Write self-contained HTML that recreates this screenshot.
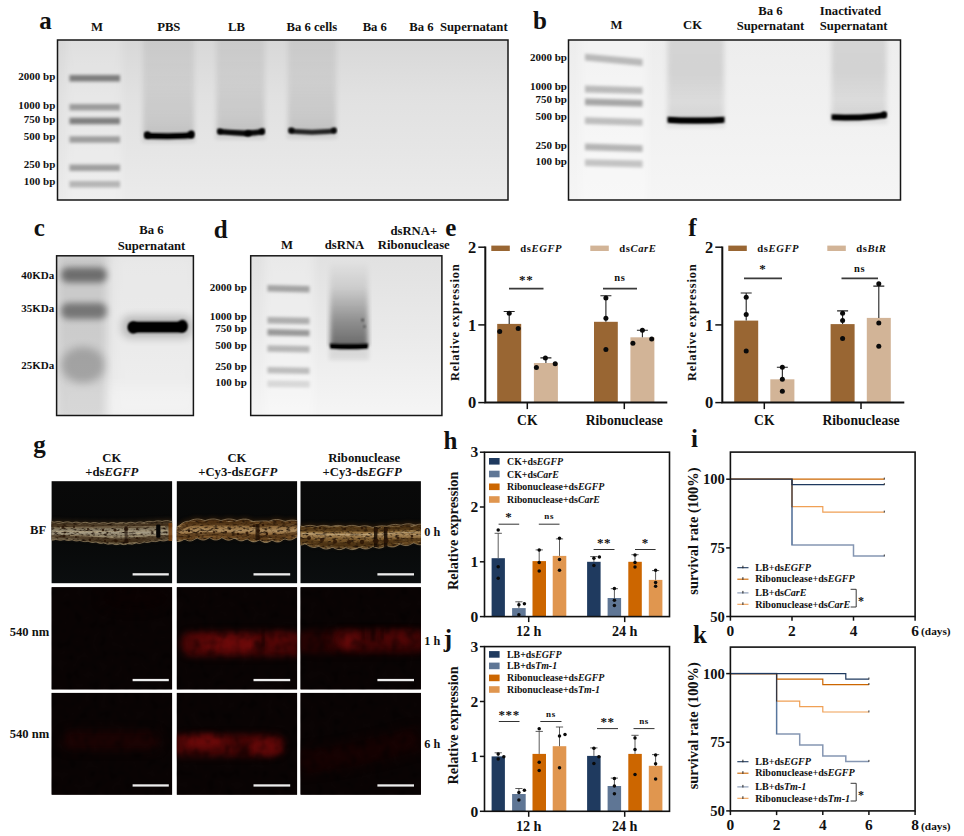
<!DOCTYPE html>
<html><head><meta charset="utf-8"><title>Figure</title>
<style>
html,body{margin:0;padding:0;background:#fff;}
body{width:964px;height:836px;overflow:hidden;font-family:"Liberation Serif",serif;}
svg{display:block;}
svg filter{color-interpolation-filters:sRGB;}
svg text{font-family:"Liberation Serif",serif;fill:#111;}
</style></head><body>
<svg width="964" height="836" viewBox="0 0 964 836">
<defs>
<filter color-interpolation-filters="sRGB" id="b1" x="-20%" y="-200%" width="140%" height="500%"><feGaussianBlur stdDeviation="1.2 0.9"/></filter>
<filter color-interpolation-filters="sRGB" id="b2" x="-20%" y="-200%" width="140%" height="500%"><feGaussianBlur stdDeviation="1.8 1.6"/></filter>
<filter color-interpolation-filters="sRGB" id="b3" x="-20%" y="-50%" width="140%" height="200%"><feGaussianBlur stdDeviation="2.2"/></filter>
<filter color-interpolation-filters="sRGB" id="b4" x="-30%" y="-80%" width="160%" height="260%"><feGaussianBlur stdDeviation="3"/></filter>
<filter color-interpolation-filters="sRGB" id="b5" x="-30%" y="-60%" width="160%" height="220%"><feGaussianBlur stdDeviation="4"/></filter>
<filter color-interpolation-filters="sRGB" id="b8" x="-30%" y="-60%" width="160%" height="220%"><feGaussianBlur stdDeviation="7"/></filter>
<filter color-interpolation-filters="sRGB" id="bs" x="-10%" y="-10%" width="120%" height="120%"><feGaussianBlur stdDeviation="2.5 1.5"/></filter>
<linearGradient id="gelA" x1="0" y1="0" x2="0" y2="1"><stop offset="0" stop-color="#d8d8d8"/><stop offset="0.35" stop-color="#e1e1e1"/><stop offset="0.7" stop-color="#e6e6e6"/><stop offset="1" stop-color="#ebebeb"/></linearGradient>
<linearGradient id="gelB" x1="0" y1="0" x2="0" y2="1"><stop offset="0" stop-color="#ededed"/><stop offset="0.5" stop-color="#f1f1f1"/><stop offset="1" stop-color="#f5f5f5"/></linearGradient>
<linearGradient id="gelD" x1="0" y1="0" x2="0" y2="1"><stop offset="0" stop-color="#e1e1e1"/><stop offset="0.5" stop-color="#eaeaea"/><stop offset="1" stop-color="#f5f5f5"/></linearGradient>
<linearGradient id="smear" x1="0" y1="0" x2="0" y2="1"><stop offset="0" stop-color="#000" stop-opacity="0.06"/><stop offset="0.5" stop-color="#000" stop-opacity="0.075"/><stop offset="0.85" stop-color="#000" stop-opacity="0.115"/><stop offset="1" stop-color="#000" stop-opacity="0.15"/></linearGradient>
<linearGradient id="smearB" x1="0" y1="0" x2="0" y2="1"><stop offset="0" stop-color="#000" stop-opacity="0.10"/><stop offset="0.45" stop-color="#000" stop-opacity="0.115"/><stop offset="0.8" stop-color="#000" stop-opacity="0.085"/><stop offset="1" stop-color="#000" stop-opacity="0.12"/></linearGradient>
<linearGradient id="smearD" x1="0" y1="0" x2="0" y2="1"><stop offset="0" stop-color="#000" stop-opacity="0.0"/><stop offset="0.3" stop-color="#000" stop-opacity="0.10"/><stop offset="0.7" stop-color="#000" stop-opacity="0.38"/><stop offset="1" stop-color="#000" stop-opacity="0.55"/></linearGradient>
<clipPath id="cpa"><rect x="57.5" y="40" width="450.5" height="160"/></clipPath><clipPath id="cpb"><rect x="568.5" y="40" width="332.0" height="160"/></clipPath>
<linearGradient id="gelC" x1="0" y1="0" x2="0" y2="1"><stop offset="0" stop-color="#dcdcdc"/><stop offset="0.5" stop-color="#e0e0e0"/><stop offset="1" stop-color="#e6e6e6"/></linearGradient>
<clipPath id="cpc"><rect x="56.6" y="255.8" width="136.8" height="159.7"/></clipPath><clipPath id="cpd"><rect x="250.7" y="255.8" width="191.2" height="159.7"/></clipPath>
<filter color-interpolation-filters="sRGB" id="wt" x="0" y="0" width="100%" height="100%">
  <feTurbulence type="fractalNoise" baseFrequency="0.22 0.5" numOctaves="2" seed="7" result="n"/>
  <feColorMatrix in="n" type="matrix" values="0 0 0 0 0.12  0 0 0 0 0.07  0 0 0 0 0.03  0 0 0 3.0 -1.42" result="dk"/>
  <feComposite in="dk" in2="SourceGraphic" operator="in" result="dk2"/>
  <feTurbulence type="fractalNoise" baseFrequency="0.12 0.9" numOctaves="2" seed="21" result="n2"/>
  <feColorMatrix in="n2" type="matrix" values="0 0 0 0 0.85  0 0 0 0 0.76  0 0 0 0 0.58  0 0 0 1.8 -1.08" result="lt"/>
  <feComposite in="lt" in2="SourceGraphic" operator="in" result="lt2"/>
  <feMerge><feMergeNode in="SourceGraphic"/><feMergeNode in="lt2"/><feMergeNode in="dk2"/></feMerge>
</filter>
<filter color-interpolation-filters="sRGB" id="wb" x="-5%" y="-20%" width="110%" height="140%"><feGaussianBlur stdDeviation="0.7"/></filter><filter color-interpolation-filters="sRGB" id="wh" x="-5%" y="-40%" width="110%" height="180%"><feGaussianBlur stdDeviation="2.2"/></filter>
<filter color-interpolation-filters="sRGB" id="rt" x="0" y="0" width="100%" height="100%">
  <feTurbulence type="fractalNoise" baseFrequency="0.12 0.10" numOctaves="2" seed="11" result="n"/>
  <feColorMatrix in="n" type="matrix" values="0 0 0 0 0  0 0 0 0 0  0 0 0 0 0  0 0 0 1.1 -0.47" result="dk"/>
  <feGaussianBlur in="dk" stdDeviation="0.9" result="dkb"/>
  <feMerge><feMergeNode in="SourceGraphic"/><feMergeNode in="dkb"/></feMerge>
</filter>
<filter color-interpolation-filters="sRGB" id="rg" x="-40%" y="-120%" width="180%" height="340%"><feGaussianBlur stdDeviation="3.2"/></filter>
<filter color-interpolation-filters="sRGB" id="rg2" x="-40%" y="-250%" width="180%" height="600%"><feGaussianBlur stdDeviation="5"/></filter>
<linearGradient id="w1" x1="0" y1="0" x2="0" y2="1"><stop offset="0" stop-color="#2a1e10"/><stop offset="0.14" stop-color="#4a3a26"/><stop offset="0.32" stop-color="#7c7058"/><stop offset="0.5" stop-color="#a39a84"/><stop offset="0.68" stop-color="#7a6e56"/><stop offset="0.86" stop-color="#483822"/><stop offset="1" stop-color="#6e6046"/></linearGradient>
<linearGradient id="w2" x1="0" y1="0" x2="0" y2="1"><stop offset="0" stop-color="#2e1a08"/><stop offset="0.14" stop-color="#5a3a18"/><stop offset="0.32" stop-color="#8e6a3c"/><stop offset="0.5" stop-color="#ab8a5c"/><stop offset="0.68" stop-color="#8a6234"/><stop offset="0.86" stop-color="#5c3c18"/><stop offset="1" stop-color="#8c7048"/></linearGradient>
<linearGradient id="w3" x1="0" y1="0" x2="0" y2="1"><stop offset="0" stop-color="#2e1c0a"/><stop offset="0.14" stop-color="#5a3e1a"/><stop offset="0.3" stop-color="#8a6836"/><stop offset="0.42" stop-color="#a8885a"/><stop offset="0.6" stop-color="#7c5a2c"/><stop offset="0.86" stop-color="#553a18"/><stop offset="1" stop-color="#7c6440"/></linearGradient>
<linearGradient id="bgd" x1="0" y1="0" x2="0" y2="1"><stop offset="0" stop-color="#090909"/><stop offset="0.5" stop-color="#070808"/><stop offset="1" stop-color="#0b0e0f"/></linearGradient>
<clipPath id="g00"><rect x="51.6" y="481.2" width="120.5" height="102.0"/></clipPath><clipPath id="g01"><rect x="51.6" y="587.2" width="120.5" height="102.2"/></clipPath><clipPath id="g02"><rect x="51.6" y="692.9" width="120.5" height="101.8"/></clipPath><clipPath id="g10"><rect x="176.8" y="481.2" width="120.3" height="102.0"/></clipPath><clipPath id="g11"><rect x="176.8" y="587.2" width="120.3" height="102.2"/></clipPath><clipPath id="g12"><rect x="176.8" y="692.9" width="120.3" height="101.8"/></clipPath><clipPath id="g20"><rect x="300.5" y="481.2" width="120.4" height="102.0"/></clipPath><clipPath id="g21"><rect x="300.5" y="587.2" width="120.4" height="102.2"/></clipPath><clipPath id="g22"><rect x="300.5" y="692.9" width="120.4" height="101.8"/></clipPath></defs>
<rect width="964" height="836" fill="#fff"/>
<text x="45.5" y="28.5" font-size="25" text-anchor="middle" font-weight="bold" font-style="normal" >a</text>
<text x="97" y="30.8" font-size="12.7" text-anchor="middle" font-weight="bold" font-style="normal" >M</text>
<text x="168.8" y="30.8" font-size="12.7" text-anchor="middle" font-weight="bold" font-style="normal" >PBS</text>
<text x="236.5" y="30.8" font-size="12.7" text-anchor="middle" font-weight="bold" font-style="normal" >LB</text>
<text x="311.8" y="30.8" font-size="12.7" text-anchor="middle" font-weight="bold" font-style="normal" >Ba 6 cells</text>
<text x="374.8" y="30.8" font-size="12.7" text-anchor="middle" font-weight="bold" font-style="normal" >Ba 6</text>
<text x="409.3" y="30.8" font-size="12.7" text-anchor="start" font-weight="bold" font-style="normal" xml:space="preserve">Ba 6  Supernatant</text>
<text x="55.3" y="80.1" font-size="11" text-anchor="end" font-weight="bold" font-style="normal" >2000 bp</text>
<text x="55.3" y="108.7" font-size="11" text-anchor="end" font-weight="bold" font-style="normal" >1000 bp</text>
<text x="55.3" y="122.7" font-size="11" text-anchor="end" font-weight="bold" font-style="normal" >750 bp</text>
<text x="55.3" y="140.4" font-size="11" text-anchor="end" font-weight="bold" font-style="normal" >500 bp</text>
<text x="55.3" y="168.3" font-size="11" text-anchor="end" font-weight="bold" font-style="normal" >250 bp</text>
<text x="55.3" y="184.9" font-size="11" text-anchor="end" font-weight="bold" font-style="normal" >100 bp</text>
<rect x="57.5" y="40" width="450.5" height="160" fill="url(#gelA)"/>
<g clip-path="url(#cpa)">
<rect x="66" y="30" width="56" height="180" fill="#fff" opacity="0.2" filter="url(#b5)"/>
<path d="M69.5 75.0 L120 75.0 L120 81.6 L69.5 81.6 Z" fill="#000" fill-opacity="0.45" filter="url(#b2)"/>
<path d="M69.5 104.0 L120 104.0 L120 110.6 L69.5 110.6 Z" fill="#000" fill-opacity="0.324" filter="url(#b2)"/>
<path d="M69.5 117.7 L120 117.7 L120 124.3 L69.5 124.3 Z" fill="#000" fill-opacity="0.45" filter="url(#b2)"/>
<path d="M69.5 136.2 L120 136.2 L120 142.8 L69.5 142.8 Z" fill="#000" fill-opacity="0.324" filter="url(#b2)"/>
<path d="M69.5 164.39999999999998 L120 164.39999999999998 L120 171.0 L69.5 171.0 Z" fill="#000" fill-opacity="0.324" filter="url(#b2)"/>
<path d="M69.5 181.0 L120 181.0 L120 187.60000000000002 L69.5 187.60000000000002 Z" fill="#000" fill-opacity="0.234" filter="url(#b2)"/>
<rect x="143" y="34" width="51" height="101.5" fill="url(#smear)" filter="url(#bs)"/>
<rect x="142" y="135.5" width="53" height="7" fill="#000" opacity="0.09" filter="url(#b3)"/>
<rect x="216.5" y="34" width="48.0" height="98.30000000000001" fill="url(#smear)" filter="url(#bs)"/>
<rect x="215.5" y="132.3" width="50.0" height="7" fill="#000" opacity="0.09" filter="url(#b3)"/>
<rect x="288" y="34" width="48" height="97.5" fill="url(#smear)" filter="url(#bs)"/>
<rect x="287" y="131.5" width="50" height="7" fill="#000" opacity="0.09" filter="url(#b3)"/>
<polygon points="144.5 132.2 150 132.9 168 133.2 186 132.8 193.5 131.8 193.5 137.8 186 138.8 168 139.2 150 138.9 144.5 138.2" fill="#000" fill-opacity="1" filter="url(#b1)"/>
<polygon points="146 133.8 168 134.70000000000002 192 133.5 192 136.89999999999998 168 138.1 146 137.2" fill="#000" fill-opacity="1"/>
<ellipse cx="147.5" cy="135" rx="3" ry="3.5" fill="#000" filter="url(#b1)"/>
<ellipse cx="191.3" cy="134.4" rx="3.2" ry="3.8" fill="#000" filter="url(#b1)"/>
<polygon points="217.5 128.70000000000002 230 129.70000000000002 245 130.5 255 130.10000000000002 264.5 128.5 264.5 133.89999999999998 255 135.5 245 135.89999999999998 230 135.1 217.5 134.1" fill="#000" fill-opacity="0.9" filter="url(#b1)"/>
<ellipse cx="248" cy="133.6" rx="3.4" ry="3.0" fill="#000" filter="url(#b1)"/>
<ellipse cx="262" cy="131.4" rx="2.6" ry="3.2" fill="#000" opacity="0.85" filter="url(#b1)"/>
<ellipse cx="220" cy="131.4" rx="2.6" ry="2.8" fill="#000" opacity="0.7" filter="url(#b1)"/>
<polygon points="219 130.6 245 132.1 263 130.4 263 133.20000000000002 245 134.9 219 133.4" fill="#000" fill-opacity="0.7" filter="url(#b1)"/>
<polygon points="288.5 128.1 296 129.1 312 129.7 328 129.1 336 127.9 336 132.9 328 134.1 312 134.7 296 134.1 288.5 133.1" fill="#000" fill-opacity="0.72" filter="url(#b1)"/>
<ellipse cx="291.5" cy="130.6" rx="2.8" ry="3.0" fill="#000" opacity="0.85" filter="url(#b1)"/>
<ellipse cx="334" cy="130.4" rx="2.8" ry="3.0" fill="#000" opacity="0.85" filter="url(#b1)"/>
<polygon points="291 130.20000000000002 312 131.20000000000002 334 130.0 334 132.39999999999998 312 133.6 291 132.6" fill="#000" fill-opacity="0.55" filter="url(#b1)"/>
</g>
<rect x="57.5" y="40" width="450.5" height="160" fill="none" stroke="#161616" stroke-width="1.5"/>
<text x="540" y="28.5" font-size="25" text-anchor="middle" font-weight="bold" font-style="normal" >b</text>
<text x="616.5" y="29.4" font-size="12.7" text-anchor="middle" font-weight="bold" font-style="normal" >M</text>
<text x="692.5" y="29.4" font-size="12.7" text-anchor="middle" font-weight="bold" font-style="normal" >CK</text>
<text x="770.5" y="14.8" font-size="12.7" text-anchor="middle" font-weight="bold" font-style="normal" >Ba 6</text>
<text x="770.5" y="29.8" font-size="12.7" text-anchor="middle" font-weight="bold" font-style="normal" >Supernatant</text>
<text x="819.8" y="14.8" font-size="12.7" text-anchor="start" font-weight="bold" font-style="normal" >Inactivated</text>
<text x="819.8" y="29.8" font-size="12.7" text-anchor="start" font-weight="bold" font-style="normal" >Supernatant</text>
<text x="567.0" y="60.9" font-size="11" text-anchor="end" font-weight="bold" font-style="normal" >2000 bp</text>
<text x="567.0" y="89.6" font-size="11" text-anchor="end" font-weight="bold" font-style="normal" >1000 bp</text>
<text x="567.0" y="102.8" font-size="11" text-anchor="end" font-weight="bold" font-style="normal" >750 bp</text>
<text x="567.0" y="120.3" font-size="11" text-anchor="end" font-weight="bold" font-style="normal" >500 bp</text>
<text x="567.0" y="148.5" font-size="11" text-anchor="end" font-weight="bold" font-style="normal" >250 bp</text>
<text x="567.0" y="164.5" font-size="11" text-anchor="end" font-weight="bold" font-style="normal" >100 bp</text>
<rect x="568.5" y="40" width="332.0" height="160" fill="url(#gelB)"/>
<g clip-path="url(#cpb)">
<rect x="580" y="30" width="68" height="180" fill="#fff" opacity="0.32" filter="url(#b5)"/>
<path d="M585 53.699999999999996 L642.5 59.1 L642.5 65.9 L585 60.49999999999999 Z" fill="#000" fill-opacity="0.2375" filter="url(#b2)"/>
<path d="M585 85.6 L642.5 87.19999999999999 L642.5 94.0 L585 92.4 Z" fill="#000" fill-opacity="0.2375" filter="url(#b2)"/>
<path d="M585 98.39999999999999 L642.5 99.99999999999999 L642.5 106.8 L585 105.2 Z" fill="#000" fill-opacity="0.323" filter="url(#b2)"/>
<path d="M585 117.19999999999999 L642.5 119.0 L642.5 125.80000000000001 L585 124.0 Z" fill="#000" fill-opacity="0.22799999999999998" filter="url(#b2)"/>
<path d="M585 143.5 L642.5 145.3 L642.5 152.10000000000002 L585 150.3 Z" fill="#000" fill-opacity="0.266" filter="url(#b2)"/>
<path d="M585 159.20000000000002 L642.5 160.6 L642.5 167.4 L585 166.00000000000003 Z" fill="#000" fill-opacity="0.209" filter="url(#b2)"/>
<rect x="667.5" y="34" width="56.5" height="85.5" fill="url(#smearB)" filter="url(#bs)"/>
<rect x="666.5" y="119.5" width="58.5" height="8" fill="#000" opacity="0.07" filter="url(#b3)"/>
<rect x="831.5" y="34" width="55.0" height="82" fill="url(#smearB)" filter="url(#bs)"/>
<rect x="830.5" y="116" width="57.0" height="8" fill="#000" opacity="0.07" filter="url(#b3)"/>
<polygon points="667.5 116.8 680 117.4 696 117.6 712 117.4 724.5 116.8 724.5 122.8 712 123.4 696 123.6 680 123.4 667.5 122.8" fill="#000" fill-opacity="1" filter="url(#b1)"/>
<polygon points="669.5 118.60000000000001 696 119.30000000000001 722.5 118.60000000000001 722.5 121.8 696 122.5 669.5 121.8" fill="#000" fill-opacity="1" filter="url(#b1)"/>
<polygon points="831.5 114.3 845 114.69999999999999 860 114.5 875 113.5 886.5 111.89999999999999 886.5 117.7 875 119.30000000000001 860 120.30000000000001 845 120.5 831.5 120.10000000000001" fill="#000" fill-opacity="1" filter="url(#b1)"/>
<ellipse cx="884" cy="114.6" rx="2.6" ry="3.2" fill="#000" opacity="0.9" filter="url(#b1)"/>
<polygon points="833.5 116.1 860 116.2 884.5 113.7 884.5 116.7 860 119.2 833.5 119.1" fill="#000" fill-opacity="1" filter="url(#b1)"/>
</g>
<rect x="568.5" y="40" width="332.0" height="160" fill="none" stroke="#161616" stroke-width="1.5"/>
<text x="39.3" y="235.5" font-size="25" text-anchor="middle" font-weight="bold" font-style="normal" >c</text>
<text x="151.5" y="234.3" font-size="12.7" text-anchor="middle" font-weight="bold" font-style="normal" >Ba 6</text>
<text x="151.5" y="249.9" font-size="12.7" text-anchor="middle" font-weight="bold" font-style="normal" >Supernatant</text>
<text x="54.3" y="279.1" font-size="11" text-anchor="end" font-weight="bold" font-style="normal" >40KDa</text>
<text x="54.3" y="312.1" font-size="11" text-anchor="end" font-weight="bold" font-style="normal" >35KDa</text>
<text x="54.3" y="369.1" font-size="11" text-anchor="end" font-weight="bold" font-style="normal" >25KDa</text>
<rect x="56.6" y="255.8" width="136.8" height="159.7" fill="url(#gelC)"/>
<g clip-path="url(#cpc)">
<rect x="110" y="250" width="90" height="170" fill="#fff" opacity="0.35" filter="url(#b8)"/>
<rect x="60" y="385" width="140" height="40" fill="#fff" opacity="0.25" filter="url(#b8)"/>
<rect x="58" y="254" width="48" height="165" fill="#000" opacity="0.085" filter="url(#b5)"/>
<rect x="61" y="267.5" width="46" height="15" rx="7" fill="#000" opacity="0.46" filter="url(#b4)"/>
<rect x="61" y="303" width="46" height="16" rx="7" fill="#000" opacity="0.42" filter="url(#b4)"/>
<ellipse cx="83" cy="365" rx="22" ry="18" fill="#000" opacity="0.21" filter="url(#b5)"/>
<rect x="122" y="316" width="70" height="22" rx="8" fill="#000" opacity="0.22" filter="url(#b5)"/>
<rect x="128" y="321.8" width="59" height="10.6" rx="5.3" fill="#000" filter="url(#b1)"/>
<rect x="129" y="322.8" width="57" height="8.6" rx="4.3" fill="#000"/>
<ellipse cx="133" cy="327.6" rx="5" ry="6" fill="#000" filter="url(#b1)"/>
<ellipse cx="182.5" cy="326" rx="5" ry="6.2" fill="#000" filter="url(#b1)"/>
</g>
<rect x="56.6" y="255.8" width="136.8" height="159.7" fill="none" stroke="#161616" stroke-width="1.5"/>
<text x="220.6" y="237.6" font-size="25" text-anchor="middle" font-weight="bold" font-style="normal" >d</text>
<text x="287" y="248.6" font-size="12.7" text-anchor="middle" font-weight="bold" font-style="normal" >M</text>
<text x="344.5" y="248.6" font-size="12.7" text-anchor="middle" font-weight="bold" font-style="normal" >dsRNA</text>
<text x="413.8" y="234.8" font-size="12.7" text-anchor="middle" font-weight="bold" font-style="normal" >dsRNA+</text>
<text x="413.8" y="249" font-size="12.7" text-anchor="middle" font-weight="bold" font-style="normal" >Ribonuclease</text>
<text x="246.8" y="291.0" font-size="11" text-anchor="end" font-weight="bold" font-style="normal" >2000 bp</text>
<text x="246.8" y="319.90000000000003" font-size="11" text-anchor="end" font-weight="bold" font-style="normal" >1000 bp</text>
<text x="246.8" y="332.1" font-size="11" text-anchor="end" font-weight="bold" font-style="normal" >750 bp</text>
<text x="246.8" y="348.6" font-size="11" text-anchor="end" font-weight="bold" font-style="normal" >500 bp</text>
<text x="246.8" y="369.6" font-size="11" text-anchor="end" font-weight="bold" font-style="normal" >250 bp</text>
<text x="246.8" y="386.3" font-size="11" text-anchor="end" font-weight="bold" font-style="normal" >100 bp</text>
<rect x="250.7" y="255.8" width="191.2" height="159.7" fill="url(#gelD)"/>
<g clip-path="url(#cpd)">
<rect x="264" y="246" width="50" height="180" fill="#fff" opacity="0.28" filter="url(#b5)"/>
<path d="M267.5 285.0 L309.5 286.0 L309.5 292.4 L267.5 291.4 Z" fill="#000" fill-opacity="0.30600000000000005" filter="url(#b2)"/>
<path d="M267.5 317.00000000000006 L309.5 317.8 L309.5 324.2 L267.5 323.40000000000003 Z" fill="#000" fill-opacity="0.27" filter="url(#b2)"/>
<path d="M267.5 329.1 L309.5 329.9 L309.5 336.29999999999995 L267.5 335.5 Z" fill="#000" fill-opacity="0.36000000000000004" filter="url(#b2)"/>
<path d="M267.5 345.3 L309.5 346.09999999999997 L309.5 352.49999999999994 L267.5 351.7 Z" fill="#000" fill-opacity="0.24300000000000002" filter="url(#b2)"/>
<path d="M267.5 366.90000000000003 L309.5 367.7 L309.5 374.09999999999997 L267.5 373.3 Z" fill="#000" fill-opacity="0.225" filter="url(#b2)"/>
<path d="M267.5 380.5 L309.5 381.1 L309.5 387.5 L267.5 386.9 Z" fill="#000" fill-opacity="0.117" filter="url(#b2)"/>
<rect x="330" y="262" width="38" height="84" fill="url(#smearD)" filter="url(#bs)"/>
<rect x="329" y="346" width="40" height="14" fill="#000" opacity="0.08" filter="url(#b3)"/>
<circle cx="362.6" cy="320" r="1.5" fill="#000" opacity="0.5" filter="url(#b1)"/>
<circle cx="364.6" cy="326.6" r="1.4" fill="#000" opacity="0.4" filter="url(#b1)"/>
<polygon points="330 343.4 340 344.0 358 344.0 368 343.4 368 348.6 358 349.20000000000005 340 349.20000000000005 330 348.6" fill="#000" fill-opacity="1" filter="url(#b1)"/>
<polygon points="331.5 345.09999999999997 349 345.7 366.5 345.09999999999997 366.5 347.7 349 348.3 331.5 347.7" fill="#000" fill-opacity="0.9"/>
</g>
<rect x="250.7" y="255.8" width="191.2" height="159.7" fill="none" stroke="#161616" stroke-width="1.5"/>
<text x="450.8" y="236.4" font-size="25" text-anchor="middle" font-weight="bold" font-style="normal" >e</text>
<text transform="translate(459.3,322.29999999999995) rotate(-90)" font-size="12.4" letter-spacing="0.82" text-anchor="middle" font-weight="bold">Relative expression</text>
<rect x="497.2" y="323.9" width="24.000000000000057" height="78.7" fill="#996633"/>
<path d="M509.20000000000005 323.9 V311.5 M503.70000000000005 311.5 H514.7" stroke="#222" stroke-width="1.1" fill="none"/>
<circle cx="509.20000000000005" cy="313.2" r="2.5" fill="#0a0a0a"/>
<circle cx="499.70000000000005" cy="331.5" r="2.5" fill="#0a0a0a"/>
<circle cx="518.2" cy="328.4" r="2.5" fill="#0a0a0a"/>
<rect x="533.9" y="363.0" width="24.0" height="39.6" fill="#d2b497"/>
<path d="M545.9 363.0 V357.9 M540.4 357.9 H551.4" stroke="#222" stroke-width="1.1" fill="none"/>
<circle cx="545.4" cy="357.9" r="2.5" fill="#0a0a0a"/>
<circle cx="536.4" cy="367.6" r="2.5" fill="#0a0a0a"/>
<circle cx="555.1999999999999" cy="363.8" r="2.5" fill="#0a0a0a"/>
<rect x="594.0" y="321.8" width="23.799999999999955" height="80.8" fill="#996633"/>
<path d="M605.9 321.8 V295.8 M600.4 295.8 H611.4" stroke="#222" stroke-width="1.1" fill="none"/>
<circle cx="605.9" cy="298.1" r="2.5" fill="#0a0a0a"/>
<circle cx="605.9" cy="318.3" r="2.5" fill="#0a0a0a"/>
<circle cx="605.9" cy="349.4" r="2.5" fill="#0a0a0a"/>
<rect x="630.4" y="337.3" width="24.0" height="65.3" fill="#d2b497"/>
<path d="M642.4 337.3 V330.3 M636.9 330.3 H647.9" stroke="#222" stroke-width="1.1" fill="none"/>
<circle cx="642.4" cy="330.3" r="2.5" fill="#0a0a0a"/>
<circle cx="632.9" cy="343.2" r="2.5" fill="#0a0a0a"/>
<circle cx="651.6999999999999" cy="338.9" r="2.5" fill="#0a0a0a"/>
<path d="M485.3 246.39999999999998 V402.6 H667.3" stroke="#111" stroke-width="2.0" fill="none"/>
<path d="M478.3 402.6 H485.3" stroke="#111" stroke-width="1.5"/>
<text x="476.3" y="408.20000000000005" font-size="16.5" text-anchor="end" font-weight="bold" font-style="normal" >0</text>
<path d="M478.3 324.9 H485.3" stroke="#111" stroke-width="1.5"/>
<text x="476.3" y="330.5" font-size="16.5" text-anchor="end" font-weight="bold" font-style="normal" >1</text>
<path d="M478.3 247.2 H485.3" stroke="#111" stroke-width="1.5"/>
<text x="476.3" y="252.79999999999998" font-size="16.5" text-anchor="end" font-weight="bold" font-style="normal" >2</text>
<path d="M527.3 402.6 V409.1" stroke="#111" stroke-width="1.5"/>
<text x="527.3" y="424.8" font-size="13.6" text-anchor="middle" font-weight="bold" font-style="normal" >CK</text>
<path d="M624.3 402.6 V409.1" stroke="#111" stroke-width="1.5"/>
<text x="624.3" y="424.8" font-size="13.6" text-anchor="middle" font-weight="bold" font-style="normal" >Ribonuclease</text>
<rect x="491.3" y="245.6" width="18.5" height="5.4" fill="#996633"/>
<text x="520.3" y="251.6" font-size="10.6" text-anchor="start" font-weight="bold" font-style="normal" letter-spacing="0.6">ds<tspan font-style="italic">EGFP</tspan></text>
<rect x="590.3" y="245.6" width="18.5" height="5.4" fill="#d2b497"/>
<text x="619.3" y="251.6" font-size="10.6" text-anchor="start" font-weight="bold" font-style="normal" letter-spacing="0.6">ds<tspan font-style="italic">CarE</tspan></text>
<path d="M509 288.6 H543.5" stroke="#3a3a3a" stroke-width="1.7"/>
<text x="526.25" y="283.8" font-size="13" text-anchor="middle" font-weight="bold" font-style="normal" letter-spacing="0.8">**</text>
<path d="M603 288.6 H637" stroke="#3a3a3a" stroke-width="1.7"/>
<text x="620.0" y="280.8" font-size="10.5" text-anchor="middle" font-weight="bold" font-style="normal" letter-spacing="0.8">ns</text>
<text x="692.5" y="236.4" font-size="25" text-anchor="middle" font-weight="bold" font-style="normal" >f</text>
<text transform="translate(696.3,322.29999999999995) rotate(-90)" font-size="12.4" letter-spacing="0.82" text-anchor="middle" font-weight="bold">Relative expression</text>
<rect x="734.2" y="320.6" width="24.0" height="82.0" fill="#996633"/>
<path d="M746.2 320.6 V293.0 M740.7 293.0 H751.7" stroke="#222" stroke-width="1.1" fill="none"/>
<circle cx="746.2" cy="297.3" r="2.5" fill="#0a0a0a"/>
<circle cx="746.2" cy="314.4" r="2.5" fill="#0a0a0a"/>
<circle cx="746.2" cy="350.9" r="2.5" fill="#0a0a0a"/>
<rect x="770.3" y="379.3" width="24.100000000000023" height="23.3" fill="#d2b497"/>
<path d="M782.3499999999999 379.3 V367.2 M776.8499999999999 367.2 H787.8499999999999" stroke="#222" stroke-width="1.1" fill="none"/>
<circle cx="782.3499999999999" cy="367.2" r="2.5" fill="#0a0a0a"/>
<circle cx="782.3499999999999" cy="379.3" r="2.5" fill="#0a0a0a"/>
<circle cx="782.3499999999999" cy="391.3" r="2.5" fill="#0a0a0a"/>
<rect x="830.6" y="324.1" width="24.0" height="78.5" fill="#996633"/>
<path d="M842.6 324.1 V310.9 M837.1 310.9 H848.1" stroke="#222" stroke-width="1.1" fill="none"/>
<circle cx="842.6" cy="313.2" r="2.5" fill="#0a0a0a"/>
<circle cx="842.6" cy="320.6" r="2.5" fill="#0a0a0a"/>
<circle cx="842.6" cy="338.5" r="2.5" fill="#0a0a0a"/>
<rect x="866.8" y="317.9" width="24.0" height="84.7" fill="#d2b497"/>
<path d="M878.8 317.9 V286.1 M873.3 286.1 H884.3" stroke="#222" stroke-width="1.1" fill="none"/>
<circle cx="878.8" cy="283.7" r="2.5" fill="#0a0a0a"/>
<circle cx="878.8" cy="323.0" r="2.5" fill="#0a0a0a"/>
<circle cx="878.8" cy="346.3" r="2.5" fill="#0a0a0a"/>
<path d="M722.3 246.39999999999998 V402.6 H904.3" stroke="#111" stroke-width="2.0" fill="none"/>
<path d="M715.3 402.6 H722.3" stroke="#111" stroke-width="1.5"/>
<text x="713.3" y="408.20000000000005" font-size="16.5" text-anchor="end" font-weight="bold" font-style="normal" >0</text>
<path d="M715.3 324.9 H722.3" stroke="#111" stroke-width="1.5"/>
<text x="713.3" y="330.5" font-size="16.5" text-anchor="end" font-weight="bold" font-style="normal" >1</text>
<path d="M715.3 247.2 H722.3" stroke="#111" stroke-width="1.5"/>
<text x="713.3" y="252.79999999999998" font-size="16.5" text-anchor="end" font-weight="bold" font-style="normal" >2</text>
<path d="M764.3 402.6 V409.1" stroke="#111" stroke-width="1.5"/>
<text x="764.3" y="424.8" font-size="13.6" text-anchor="middle" font-weight="bold" font-style="normal" >CK</text>
<path d="M861 402.6 V409.1" stroke="#111" stroke-width="1.5"/>
<text x="861" y="424.8" font-size="13.6" text-anchor="middle" font-weight="bold" font-style="normal" >Ribonuclease</text>
<rect x="728.3" y="245.6" width="18.5" height="5.4" fill="#996633"/>
<text x="757.3" y="251.6" font-size="10.6" text-anchor="start" font-weight="bold" font-style="normal" letter-spacing="0.6">ds<tspan font-style="italic">EGFP</tspan></text>
<rect x="827.3" y="245.6" width="18.5" height="5.4" fill="#d2b497"/>
<text x="856.3" y="251.6" font-size="10.6" text-anchor="start" font-weight="bold" font-style="normal" letter-spacing="0.6">ds<tspan font-style="italic">BtR</tspan></text>
<path d="M744 278.3 H782" stroke="#3a3a3a" stroke-width="1.7"/>
<text x="763.0" y="273.3" font-size="13" text-anchor="middle" font-weight="bold" font-style="normal" letter-spacing="0.8">*</text>
<path d="M841.5 278.3 H878" stroke="#3a3a3a" stroke-width="1.7"/>
<text x="859.75" y="271.8" font-size="10.5" text-anchor="middle" font-weight="bold" font-style="normal" letter-spacing="0.8">ns</text>
<text x="39.6" y="452.6" font-size="25" text-anchor="middle" font-weight="bold" font-style="normal" >g</text>
<text x="111.85" y="461.5" font-size="12.7" text-anchor="middle" font-weight="bold" font-style="normal" >CK</text>
<text x="111.85" y="476.3" font-size="12.7" text-anchor="middle" font-weight="bold" font-style="normal" >+ds<tspan font-style="italic">EGFP</tspan></text>
<text x="236.95000000000002" y="461.5" font-size="12.7" text-anchor="middle" font-weight="bold" font-style="normal" >CK</text>
<text x="237.75000000000003" y="476.3" font-size="12.7" text-anchor="middle" font-weight="bold" font-style="normal" >+Cy3-ds<tspan font-style="italic">EGFP</tspan></text>
<text x="364.09999999999997" y="461.5" font-size="12.7" text-anchor="middle" font-weight="bold" font-style="normal" >Ribonuclease</text>
<text x="362.2" y="476.3" font-size="12.7" text-anchor="middle" font-weight="bold" font-style="normal" >+Cy3-ds<tspan font-style="italic">EGFP</tspan></text>
<text x="46.2" y="533.6" font-size="12.6" text-anchor="end" font-weight="bold" font-style="normal" >BF</text>
<text x="49.2" y="636.4" font-size="12.6" text-anchor="end" font-weight="bold" font-style="normal" >540 nm</text>
<text x="49.2" y="737.6" font-size="12.6" text-anchor="end" font-weight="bold" font-style="normal" >540 nm</text>
<text x="424.3" y="536.2" font-size="12.2" text-anchor="start" font-weight="bold" font-style="normal" >0 h</text>
<text x="424.3" y="644.8" font-size="12.2" text-anchor="start" font-weight="bold" font-style="normal" >1 h</text>
<text x="424.3" y="747.6" font-size="12.2" text-anchor="start" font-weight="bold" font-style="normal" >6 h</text>
<rect x="51.6" y="481.2" width="120.5" height="102.0" fill="url(#bgd)"/>
<g clip-path="url(#g00)">
<path d="M49.6 521.2 L51.1 521.4 L52.6 521.8 L54.1 522.2 L55.6 521.9 L57.1 521.6 L58.6 521.5 L60.1 521.7 L61.6 522.1 L63.1 522.6 L64.6 522.2 L66.1 521.9 L67.6 521.8 L69.1 522.0 L70.6 522.4 L72.1 522.9 L73.6 522.5 L75.1 522.2 L76.6 522.1 L78.1 522.3 L79.6 522.7 L81.1 523.1 L82.6 522.7 L84.1 522.4 L85.6 522.3 L87.1 522.5 L88.6 522.9 L90.1 523.3 L91.6 522.9 L93.1 522.6 L94.6 522.5 L96.1 522.7 L97.6 523.0 L99.1 523.4 L100.6 523.0 L102.1 522.7 L103.6 522.6 L105.1 522.7 L106.6 523.1 L108.1 523.5 L109.6 523.0 L111.1 522.7 L112.6 522.6 L114.1 522.7 L115.6 523.1 L117.1 523.4 L118.6 523.0 L120.1 522.6 L121.6 522.5 L123.1 522.6 L124.6 522.9 L126.1 523.3 L127.6 522.8 L129.1 522.5 L130.6 522.3 L132.1 522.4 L133.6 522.7 L135.1 523.1 L136.6 522.6 L138.1 522.2 L139.6 522.0 L141.1 522.0 L142.6 522.3 L144.1 522.6 L145.6 522.0 L147.1 521.6 L148.6 521.4 L150.1 521.4 L151.6 521.6 L153.1 521.9 L154.6 521.4 L156.1 521.0 L157.6 520.8 L159.1 520.9 L160.6 521.1 L162.1 521.5 L163.6 521.0 L165.1 520.7 L166.6 520.6 L168.1 520.7 L169.6 521.1 L171.1 521.5 L172.6 521.0 L174.1 520.7 L174.1 540.2 L172.6 540.5 L171.1 540.5 L169.6 540.3 L168.1 539.9 L166.6 540.4 L165.1 540.8 L163.6 541.0 L162.1 540.9 L160.6 540.5 L159.1 540.7 L157.6 541.3 L156.1 541.6 L154.6 541.6 L153.1 541.4 L151.6 541.3 L150.1 541.9 L148.6 542.3 L147.1 542.5 L145.6 542.3 L144.1 542.0 L142.6 542.6 L141.1 543.1 L139.6 543.4 L138.1 543.3 L136.6 543.0 L135.1 543.3 L133.6 543.8 L132.1 544.2 L130.6 544.1 L129.1 543.9 L127.6 543.7 L126.1 544.3 L124.6 544.6 L123.1 544.6 L121.6 544.3 L120.1 543.8 L118.6 544.3 L117.1 544.6 L115.6 544.6 L114.1 544.3 L112.6 543.8 L111.1 543.8 L109.6 544.1 L108.1 544.2 L106.6 543.9 L105.1 543.4 L103.6 543.0 L102.1 543.3 L100.6 543.4 L99.1 543.2 L97.6 542.7 L96.1 542.0 L94.6 542.3 L93.1 542.5 L91.6 542.4 L90.1 542.0 L88.6 541.4 L87.1 541.3 L85.6 541.6 L84.1 541.6 L82.6 541.3 L81.1 540.8 L79.6 540.5 L78.1 540.8 L76.6 541.0 L75.1 540.8 L73.6 540.4 L72.1 539.9 L70.6 540.2 L69.1 540.5 L67.6 540.5 L66.1 540.2 L64.6 539.7 L63.1 539.8 L61.6 540.2 L60.1 540.3 L58.6 540.1 L57.1 539.7 L55.6 539.5 L54.1 539.9 L52.6 540.2 L51.1 540.1 L49.6 539.8 Z" fill="#3a2814" opacity="0.75" filter="url(#wh)" transform="translate(0,-1.5)"/>
<g filter="url(#wb)"><path d="M49.6 521.2 L51.1 521.4 L52.6 521.8 L54.1 522.2 L55.6 521.9 L57.1 521.6 L58.6 521.5 L60.1 521.7 L61.6 522.1 L63.1 522.6 L64.6 522.2 L66.1 521.9 L67.6 521.8 L69.1 522.0 L70.6 522.4 L72.1 522.9 L73.6 522.5 L75.1 522.2 L76.6 522.1 L78.1 522.3 L79.6 522.7 L81.1 523.1 L82.6 522.7 L84.1 522.4 L85.6 522.3 L87.1 522.5 L88.6 522.9 L90.1 523.3 L91.6 522.9 L93.1 522.6 L94.6 522.5 L96.1 522.7 L97.6 523.0 L99.1 523.4 L100.6 523.0 L102.1 522.7 L103.6 522.6 L105.1 522.7 L106.6 523.1 L108.1 523.5 L109.6 523.0 L111.1 522.7 L112.6 522.6 L114.1 522.7 L115.6 523.1 L117.1 523.4 L118.6 523.0 L120.1 522.6 L121.6 522.5 L123.1 522.6 L124.6 522.9 L126.1 523.3 L127.6 522.8 L129.1 522.5 L130.6 522.3 L132.1 522.4 L133.6 522.7 L135.1 523.1 L136.6 522.6 L138.1 522.2 L139.6 522.0 L141.1 522.0 L142.6 522.3 L144.1 522.6 L145.6 522.0 L147.1 521.6 L148.6 521.4 L150.1 521.4 L151.6 521.6 L153.1 521.9 L154.6 521.4 L156.1 521.0 L157.6 520.8 L159.1 520.9 L160.6 521.1 L162.1 521.5 L163.6 521.0 L165.1 520.7 L166.6 520.6 L168.1 520.7 L169.6 521.1 L171.1 521.5 L172.6 521.0 L174.1 520.7 L174.1 540.2 L172.6 540.5 L171.1 540.5 L169.6 540.3 L168.1 539.9 L166.6 540.4 L165.1 540.8 L163.6 541.0 L162.1 540.9 L160.6 540.5 L159.1 540.7 L157.6 541.3 L156.1 541.6 L154.6 541.6 L153.1 541.4 L151.6 541.3 L150.1 541.9 L148.6 542.3 L147.1 542.5 L145.6 542.3 L144.1 542.0 L142.6 542.6 L141.1 543.1 L139.6 543.4 L138.1 543.3 L136.6 543.0 L135.1 543.3 L133.6 543.8 L132.1 544.2 L130.6 544.1 L129.1 543.9 L127.6 543.7 L126.1 544.3 L124.6 544.6 L123.1 544.6 L121.6 544.3 L120.1 543.8 L118.6 544.3 L117.1 544.6 L115.6 544.6 L114.1 544.3 L112.6 543.8 L111.1 543.8 L109.6 544.1 L108.1 544.2 L106.6 543.9 L105.1 543.4 L103.6 543.0 L102.1 543.3 L100.6 543.4 L99.1 543.2 L97.6 542.7 L96.1 542.0 L94.6 542.3 L93.1 542.5 L91.6 542.4 L90.1 542.0 L88.6 541.4 L87.1 541.3 L85.6 541.6 L84.1 541.6 L82.6 541.3 L81.1 540.8 L79.6 540.5 L78.1 540.8 L76.6 541.0 L75.1 540.8 L73.6 540.4 L72.1 539.9 L70.6 540.2 L69.1 540.5 L67.6 540.5 L66.1 540.2 L64.6 539.7 L63.1 539.8 L61.6 540.2 L60.1 540.3 L58.6 540.1 L57.1 539.7 L55.6 539.5 L54.1 539.9 L52.6 540.2 L51.1 540.1 L49.6 539.8 Z" fill="url(#w1)" filter="url(#wt)"/></g>
<path d="M49.6 525.3 L52.6 525.4 L55.7 525.5 L58.7 525.6 L61.7 525.7 L64.8 525.9 L67.8 526.0 L70.9 526.1 L73.9 526.1 L76.9 526.2 L80.0 526.3 L83.0 526.4 L86.0 526.5 L89.1 526.5 L92.1 526.6 L95.1 526.6 L98.2 526.6 L101.2 526.7 L104.3 526.7 L107.3 526.7 L110.3 526.7 L113.4 526.7 L116.4 526.7 L119.4 526.6 L122.5 526.6 L125.5 526.6 L128.6 526.5 L131.6 526.4 L134.6 526.3 L137.7 526.2 L140.7 526.0 L143.7 525.8 L146.8 525.6 L149.8 525.4 L152.8 525.2 L155.9 525.0 L158.9 524.8 L162.0 524.7 L165.0 524.7 L168.0 524.7 L171.1 524.7 L174.1 524.7" fill="none" stroke="#3a2612" stroke-width="3.6" stroke-opacity="0.55" filter="url(#wb)"/>
<path d="M49.6 535.9 L52.6 535.9 L55.7 535.9 L58.7 536.0 L61.7 536.0 L64.8 536.1 L67.8 536.2 L70.9 536.4 L73.9 536.5 L76.9 536.7 L80.0 536.9 L83.0 537.2 L86.0 537.5 L89.1 537.8 L92.1 538.1 L95.1 538.5 L98.2 538.8 L101.2 539.2 L104.3 539.5 L107.3 539.8 L110.3 540.0 L113.4 540.2 L116.4 540.3 L119.4 540.4 L122.5 540.4 L125.5 540.3 L128.6 540.1 L131.6 539.9 L134.6 539.6 L137.7 539.3 L140.7 539.0 L143.7 538.6 L146.8 538.3 L149.8 537.9 L152.8 537.6 L155.9 537.3 L158.9 537.0 L162.0 536.8 L165.0 536.6 L168.0 536.4 L171.1 536.3 L174.1 536.2" fill="none" stroke="#3a2612" stroke-width="3.8" stroke-opacity="0.55" filter="url(#wb)"/>
<path d="M49.6 521.2 L51.1 521.4 L52.6 521.8 L54.1 522.2 L55.6 521.9 L57.1 521.6 L58.6 521.5 L60.1 521.7 L61.6 522.1 L63.1 522.6 L64.6 522.2 L66.1 521.9 L67.6 521.8 L69.1 522.0 L70.6 522.4 L72.1 522.9 L73.6 522.5 L75.1 522.2 L76.6 522.1 L78.1 522.3 L79.6 522.7 L81.1 523.1 L82.6 522.7 L84.1 522.4 L85.6 522.3 L87.1 522.5 L88.6 522.9 L90.1 523.3 L91.6 522.9 L93.1 522.6 L94.6 522.5 L96.1 522.7 L97.6 523.0 L99.1 523.4 L100.6 523.0 L102.1 522.7 L103.6 522.6 L105.1 522.7 L106.6 523.1 L108.1 523.5 L109.6 523.0 L111.1 522.7 L112.6 522.6 L114.1 522.7 L115.6 523.1 L117.1 523.4 L118.6 523.0 L120.1 522.6 L121.6 522.5 L123.1 522.6 L124.6 522.9 L126.1 523.3 L127.6 522.8 L129.1 522.5 L130.6 522.3 L132.1 522.4 L133.6 522.7 L135.1 523.1 L136.6 522.6 L138.1 522.2 L139.6 522.0 L141.1 522.0 L142.6 522.3 L144.1 522.6 L145.6 522.0 L147.1 521.6 L148.6 521.4 L150.1 521.4 L151.6 521.6 L153.1 521.9 L154.6 521.4 L156.1 521.0 L157.6 520.8 L159.1 520.9 L160.6 521.1 L162.1 521.5 L163.6 521.0 L165.1 520.7 L166.6 520.6 L168.1 520.7 L169.6 521.1 L171.1 521.5 L172.6 521.0 L174.1 520.7 L174.1 540.2 L172.6 540.5 L171.1 540.5 L169.6 540.3 L168.1 539.9 L166.6 540.4 L165.1 540.8 L163.6 541.0 L162.1 540.9 L160.6 540.5 L159.1 540.7 L157.6 541.3 L156.1 541.6 L154.6 541.6 L153.1 541.4 L151.6 541.3 L150.1 541.9 L148.6 542.3 L147.1 542.5 L145.6 542.3 L144.1 542.0 L142.6 542.6 L141.1 543.1 L139.6 543.4 L138.1 543.3 L136.6 543.0 L135.1 543.3 L133.6 543.8 L132.1 544.2 L130.6 544.1 L129.1 543.9 L127.6 543.7 L126.1 544.3 L124.6 544.6 L123.1 544.6 L121.6 544.3 L120.1 543.8 L118.6 544.3 L117.1 544.6 L115.6 544.6 L114.1 544.3 L112.6 543.8 L111.1 543.8 L109.6 544.1 L108.1 544.2 L106.6 543.9 L105.1 543.4 L103.6 543.0 L102.1 543.3 L100.6 543.4 L99.1 543.2 L97.6 542.7 L96.1 542.0 L94.6 542.3 L93.1 542.5 L91.6 542.4 L90.1 542.0 L88.6 541.4 L87.1 541.3 L85.6 541.6 L84.1 541.6 L82.6 541.3 L81.1 540.8 L79.6 540.5 L78.1 540.8 L76.6 541.0 L75.1 540.8 L73.6 540.4 L72.1 539.9 L70.6 540.2 L69.1 540.5 L67.6 540.5 L66.1 540.2 L64.6 539.7 L63.1 539.8 L61.6 540.2 L60.1 540.3 L58.6 540.1 L57.1 539.7 L55.6 539.5 L54.1 539.9 L52.6 540.2 L51.1 540.1 L49.6 539.8 Z" fill="none" stroke="#c4b088" stroke-width="0.7" stroke-opacity="0.7" filter="url(#wb)"/>
<path d="M56 531.5 Q100 532 168 530.5 M70 535.5 Q115 538.5 160 535.5 M60 527.5 Q110 527 165 526.5" stroke="#bcaa86" stroke-width="1" stroke-opacity="0.5" fill="none" filter="url(#wb)"/>
<circle cx="63" cy="527" r="1.6" fill="#2a1607" opacity="0.9" filter="url(#wb)"/>
<circle cx="64" cy="536" r="1.6" fill="#2a1607" opacity="0.9" filter="url(#wb)"/>
<circle cx="74" cy="527" r="1.1" fill="#2a1607" opacity="0.9" filter="url(#wb)"/>
<circle cx="76" cy="537" r="1.1" fill="#2a1607" opacity="0.9" filter="url(#wb)"/>
<circle cx="88" cy="529" r="1.1" fill="#2a1607" opacity="0.9" filter="url(#wb)"/>
<circle cx="90" cy="540" r="1.2" fill="#2a1607" opacity="0.9" filter="url(#wb)"/>
<circle cx="103" cy="530" r="1.2" fill="#2a1607" opacity="0.9" filter="url(#wb)"/>
<circle cx="105" cy="541" r="1.2" fill="#2a1607" opacity="0.9" filter="url(#wb)"/>
<circle cx="115" cy="530" r="1.6" fill="#2a1607" opacity="0.9" filter="url(#wb)"/>
<circle cx="116" cy="541" r="1.6" fill="#2a1607" opacity="0.9" filter="url(#wb)"/>
<circle cx="126" cy="529" r="2.0" fill="#2a1607" opacity="0.9" filter="url(#wb)"/>
<circle cx="126.5" cy="541" r="2.2" fill="#2a1607" opacity="0.9" filter="url(#wb)"/>
<circle cx="137" cy="529" r="1" fill="#2a1607" opacity="0.9" filter="url(#wb)"/>
<circle cx="137" cy="538" r="1" fill="#2a1607" opacity="0.9" filter="url(#wb)"/>
<rect x="124.6" y="526" width="3" height="17" fill="#20120a" opacity="0.6" filter="url(#wb)"/>
<rect x="156.2" y="524.6" width="4.2" height="13.2" fill="#050505" rx="1"/>
<rect x="168.5" y="523" width="5" height="18" fill="#7a4210" opacity="0.8" filter="url(#wb)"/>
</g>
<rect x="132.6" y="573.2" width="36.2" height="2.3" fill="#ededed"/>
<rect x="51.6" y="587.2" width="120.5" height="102.2" fill="#0a0404"/>
<g clip-path="url(#g01)">
<g filter="url(#rt)">
<rect x="51.6" y="587.2" width="120.5" height="102.2" fill="#0a0404"/>
<ellipse cx="135" cy="598" rx="34" ry="12" fill="#0b0202" filter="url(#rg2)"/>
</g>
</g>
<rect x="132.6" y="678.9" width="36.2" height="2.3" fill="#ededed"/>
<rect x="51.6" y="692.9" width="120.5" height="101.8" fill="#0a0404"/>
<g clip-path="url(#g02)">
<g filter="url(#rt)">
<rect x="51.6" y="692.9" width="120.5" height="101.8" fill="#0a0404"/>
<rect x="62" y="731" width="98" height="19" rx="9" fill="#1c0303" filter="url(#rg2)"/>
</g>
</g>
<rect x="132.6" y="784.3" width="36.2" height="2.3" fill="#ededed"/>
<rect x="176.8" y="481.2" width="120.3" height="102.0" fill="url(#bgd)"/>
<g clip-path="url(#g10)">
<path d="M174.8 528.0 L176.3 527.5 L177.8 526.5 L179.3 525.4 L180.9 524.2 L182.4 523.1 L183.9 522.3 L185.4 521.7 L186.9 521.3 L188.4 521.3 L190.0 520.8 L191.5 520.1 L193.0 519.6 L194.5 519.3 L196.0 519.1 L197.5 519.0 L199.1 519.1 L200.6 519.4 L202.1 519.7 L203.6 520.2 L205.1 520.6 L206.6 520.1 L208.1 519.7 L209.7 519.3 L211.2 519.1 L212.7 519.0 L214.2 519.0 L215.7 519.2 L217.2 519.5 L218.8 519.9 L220.3 520.4 L221.8 520.4 L223.3 519.9 L224.8 519.5 L226.3 519.2 L227.9 519.0 L229.4 519.0 L230.9 519.1 L232.4 519.3 L233.9 519.7 L235.4 520.1 L237.0 520.6 L238.5 520.1 L240.0 519.7 L241.5 519.4 L243.0 519.1 L244.5 519.1 L246.0 519.1 L247.6 519.4 L249.1 519.8 L250.6 520.4 L252.1 521.1 L253.6 521.5 L255.1 521.3 L256.7 521.2 L258.2 521.2 L259.7 521.1 L261.2 521.0 L262.7 520.9 L264.2 520.9 L265.8 520.9 L267.3 521.1 L268.8 521.3 L270.3 520.8 L271.8 520.2 L273.3 519.8 L274.8 519.6 L276.4 519.5 L277.9 519.5 L279.4 519.7 L280.9 520.1 L282.4 520.5 L283.9 521.1 L285.5 521.3 L287.0 520.9 L288.5 520.6 L290.0 520.3 L291.5 520.2 L293.0 520.2 L294.6 520.3 L296.1 520.5 L297.6 520.8 L299.1 521.2 L299.1 537.9 L297.6 537.1 L296.1 537.4 L294.6 538.4 L293.0 539.2 L291.5 539.8 L290.0 540.1 L288.5 540.1 L287.0 539.7 L285.5 539.2 L283.9 539.2 L282.4 540.3 L280.9 541.3 L279.4 541.9 L277.9 542.1 L276.4 542.0 L274.8 541.5 L273.3 540.8 L271.8 540.2 L270.3 541.2 L268.8 541.9 L267.3 542.4 L265.8 542.6 L264.2 542.4 L262.7 541.8 L261.2 541.0 L259.7 540.1 L258.2 540.6 L256.7 541.3 L255.1 541.8 L253.6 541.9 L252.1 541.7 L250.6 541.1 L249.1 540.3 L247.6 539.3 L246.0 539.4 L244.5 540.1 L243.0 540.7 L241.5 540.9 L240.0 540.8 L238.5 540.3 L237.0 539.6 L235.4 538.7 L233.9 538.4 L232.4 539.2 L230.9 539.8 L229.4 540.2 L227.9 540.2 L226.3 539.9 L224.8 539.3 L223.3 538.5 L221.8 537.8 L220.3 538.7 L218.8 539.4 L217.2 539.9 L215.7 540.0 L214.2 539.9 L212.7 539.4 L211.2 538.6 L209.7 537.7 L208.1 538.4 L206.6 539.2 L205.1 539.8 L203.6 540.1 L202.1 540.0 L200.6 539.6 L199.1 539.0 L197.5 538.2 L196.0 538.6 L194.5 539.5 L193.0 540.3 L191.5 540.8 L190.0 541.0 L188.4 540.8 L186.9 540.3 L185.4 539.6 L183.9 539.5 L182.4 540.4 L180.9 541.1 L179.3 541.4 L177.8 541.4 L176.3 541.0 L174.8 540.3 Z" fill="#3a220a" opacity="0.75" filter="url(#wh)" transform="translate(0,-1.5)"/>
<g filter="url(#wb)"><path d="M174.8 528.0 L176.3 527.5 L177.8 526.5 L179.3 525.4 L180.9 524.2 L182.4 523.1 L183.9 522.3 L185.4 521.7 L186.9 521.3 L188.4 521.3 L190.0 520.8 L191.5 520.1 L193.0 519.6 L194.5 519.3 L196.0 519.1 L197.5 519.0 L199.1 519.1 L200.6 519.4 L202.1 519.7 L203.6 520.2 L205.1 520.6 L206.6 520.1 L208.1 519.7 L209.7 519.3 L211.2 519.1 L212.7 519.0 L214.2 519.0 L215.7 519.2 L217.2 519.5 L218.8 519.9 L220.3 520.4 L221.8 520.4 L223.3 519.9 L224.8 519.5 L226.3 519.2 L227.9 519.0 L229.4 519.0 L230.9 519.1 L232.4 519.3 L233.9 519.7 L235.4 520.1 L237.0 520.6 L238.5 520.1 L240.0 519.7 L241.5 519.4 L243.0 519.1 L244.5 519.1 L246.0 519.1 L247.6 519.4 L249.1 519.8 L250.6 520.4 L252.1 521.1 L253.6 521.5 L255.1 521.3 L256.7 521.2 L258.2 521.2 L259.7 521.1 L261.2 521.0 L262.7 520.9 L264.2 520.9 L265.8 520.9 L267.3 521.1 L268.8 521.3 L270.3 520.8 L271.8 520.2 L273.3 519.8 L274.8 519.6 L276.4 519.5 L277.9 519.5 L279.4 519.7 L280.9 520.1 L282.4 520.5 L283.9 521.1 L285.5 521.3 L287.0 520.9 L288.5 520.6 L290.0 520.3 L291.5 520.2 L293.0 520.2 L294.6 520.3 L296.1 520.5 L297.6 520.8 L299.1 521.2 L299.1 537.9 L297.6 537.1 L296.1 537.4 L294.6 538.4 L293.0 539.2 L291.5 539.8 L290.0 540.1 L288.5 540.1 L287.0 539.7 L285.5 539.2 L283.9 539.2 L282.4 540.3 L280.9 541.3 L279.4 541.9 L277.9 542.1 L276.4 542.0 L274.8 541.5 L273.3 540.8 L271.8 540.2 L270.3 541.2 L268.8 541.9 L267.3 542.4 L265.8 542.6 L264.2 542.4 L262.7 541.8 L261.2 541.0 L259.7 540.1 L258.2 540.6 L256.7 541.3 L255.1 541.8 L253.6 541.9 L252.1 541.7 L250.6 541.1 L249.1 540.3 L247.6 539.3 L246.0 539.4 L244.5 540.1 L243.0 540.7 L241.5 540.9 L240.0 540.8 L238.5 540.3 L237.0 539.6 L235.4 538.7 L233.9 538.4 L232.4 539.2 L230.9 539.8 L229.4 540.2 L227.9 540.2 L226.3 539.9 L224.8 539.3 L223.3 538.5 L221.8 537.8 L220.3 538.7 L218.8 539.4 L217.2 539.9 L215.7 540.0 L214.2 539.9 L212.7 539.4 L211.2 538.6 L209.7 537.7 L208.1 538.4 L206.6 539.2 L205.1 539.8 L203.6 540.1 L202.1 540.0 L200.6 539.6 L199.1 539.0 L197.5 538.2 L196.0 538.6 L194.5 539.5 L193.0 540.3 L191.5 540.8 L190.0 541.0 L188.4 540.8 L186.9 540.3 L185.4 539.6 L183.9 539.5 L182.4 540.4 L180.9 541.1 L179.3 541.4 L177.8 541.4 L176.3 541.0 L174.8 540.3 Z" fill="url(#w2)" filter="url(#wt)"/></g>
<path d="M174.8 531.8 L177.8 531.0 L180.9 529.0 L183.9 526.8 L186.9 525.2 L190.0 524.3 L193.0 523.9 L196.0 523.8 L199.1 523.8 L202.1 523.8 L205.1 523.8 L208.1 523.8 L211.2 523.8 L214.2 523.8 L217.2 523.8 L220.3 523.8 L223.3 523.8 L226.3 523.8 L229.4 523.8 L232.4 523.8 L235.4 523.8 L238.5 523.8 L241.5 523.8 L244.5 523.8 L247.6 524.0 L250.6 524.3 L253.6 524.9 L256.7 525.5 L259.7 525.8 L262.7 525.6 L265.8 525.1 L268.8 524.6 L271.8 524.3 L274.8 524.2 L277.9 524.3 L280.9 524.4 L283.9 524.6 L287.0 524.7 L290.0 524.9 L293.0 525.0 L296.1 525.0 L299.1 525.0" fill="none" stroke="#40260c" stroke-width="3.6" stroke-opacity="0.55" filter="url(#wb)"/>
<path d="M174.8 535.3 L177.8 535.6 L180.9 535.8 L183.9 535.8 L186.9 535.6 L190.0 535.2 L193.0 534.9 L196.0 534.6 L199.1 534.4 L202.1 534.3 L205.1 534.2 L208.1 534.2 L211.2 534.2 L214.2 534.2 L217.2 534.3 L220.3 534.3 L223.3 534.3 L226.3 534.4 L229.4 534.5 L232.4 534.6 L235.4 534.7 L238.5 534.9 L241.5 535.1 L244.5 535.4 L247.6 535.6 L250.6 535.9 L253.6 536.1 L256.7 536.3 L259.7 536.5 L262.7 536.7 L265.8 536.8 L268.8 536.8 L271.8 536.7 L274.8 536.6 L277.9 536.3 L280.9 536.0 L283.9 535.5 L287.0 534.9 L290.0 534.3 L293.0 533.8 L296.1 533.4 L299.1 533.3" fill="none" stroke="#40260c" stroke-width="3.8" stroke-opacity="0.55" filter="url(#wb)"/>
<path d="M174.8 528.0 L176.3 527.5 L177.8 526.5 L179.3 525.4 L180.9 524.2 L182.4 523.1 L183.9 522.3 L185.4 521.7 L186.9 521.3 L188.4 521.3 L190.0 520.8 L191.5 520.1 L193.0 519.6 L194.5 519.3 L196.0 519.1 L197.5 519.0 L199.1 519.1 L200.6 519.4 L202.1 519.7 L203.6 520.2 L205.1 520.6 L206.6 520.1 L208.1 519.7 L209.7 519.3 L211.2 519.1 L212.7 519.0 L214.2 519.0 L215.7 519.2 L217.2 519.5 L218.8 519.9 L220.3 520.4 L221.8 520.4 L223.3 519.9 L224.8 519.5 L226.3 519.2 L227.9 519.0 L229.4 519.0 L230.9 519.1 L232.4 519.3 L233.9 519.7 L235.4 520.1 L237.0 520.6 L238.5 520.1 L240.0 519.7 L241.5 519.4 L243.0 519.1 L244.5 519.1 L246.0 519.1 L247.6 519.4 L249.1 519.8 L250.6 520.4 L252.1 521.1 L253.6 521.5 L255.1 521.3 L256.7 521.2 L258.2 521.2 L259.7 521.1 L261.2 521.0 L262.7 520.9 L264.2 520.9 L265.8 520.9 L267.3 521.1 L268.8 521.3 L270.3 520.8 L271.8 520.2 L273.3 519.8 L274.8 519.6 L276.4 519.5 L277.9 519.5 L279.4 519.7 L280.9 520.1 L282.4 520.5 L283.9 521.1 L285.5 521.3 L287.0 520.9 L288.5 520.6 L290.0 520.3 L291.5 520.2 L293.0 520.2 L294.6 520.3 L296.1 520.5 L297.6 520.8 L299.1 521.2 L299.1 537.9 L297.6 537.1 L296.1 537.4 L294.6 538.4 L293.0 539.2 L291.5 539.8 L290.0 540.1 L288.5 540.1 L287.0 539.7 L285.5 539.2 L283.9 539.2 L282.4 540.3 L280.9 541.3 L279.4 541.9 L277.9 542.1 L276.4 542.0 L274.8 541.5 L273.3 540.8 L271.8 540.2 L270.3 541.2 L268.8 541.9 L267.3 542.4 L265.8 542.6 L264.2 542.4 L262.7 541.8 L261.2 541.0 L259.7 540.1 L258.2 540.6 L256.7 541.3 L255.1 541.8 L253.6 541.9 L252.1 541.7 L250.6 541.1 L249.1 540.3 L247.6 539.3 L246.0 539.4 L244.5 540.1 L243.0 540.7 L241.5 540.9 L240.0 540.8 L238.5 540.3 L237.0 539.6 L235.4 538.7 L233.9 538.4 L232.4 539.2 L230.9 539.8 L229.4 540.2 L227.9 540.2 L226.3 539.9 L224.8 539.3 L223.3 538.5 L221.8 537.8 L220.3 538.7 L218.8 539.4 L217.2 539.9 L215.7 540.0 L214.2 539.9 L212.7 539.4 L211.2 538.6 L209.7 537.7 L208.1 538.4 L206.6 539.2 L205.1 539.8 L203.6 540.1 L202.1 540.0 L200.6 539.6 L199.1 539.0 L197.5 538.2 L196.0 538.6 L194.5 539.5 L193.0 540.3 L191.5 540.8 L190.0 541.0 L188.4 540.8 L186.9 540.3 L185.4 539.6 L183.9 539.5 L182.4 540.4 L180.9 541.1 L179.3 541.4 L177.8 541.4 L176.3 541.0 L174.8 540.3 Z" fill="none" stroke="#c4b088" stroke-width="0.7" stroke-opacity="0.7" filter="url(#wb)"/>
<rect x="255.5" y="524" width="4" height="16" fill="#1c0e04" opacity="0.75" filter="url(#wb)"/>
<circle cx="189" cy="531" r="1.2" fill="#2a1405" opacity="0.9" filter="url(#wb)"/>
<circle cx="201" cy="533" r="1" fill="#2a1405" opacity="0.9" filter="url(#wb)"/>
<circle cx="214" cy="532" r="1.1" fill="#2a1405" opacity="0.9" filter="url(#wb)"/>
<circle cx="226" cy="532" r="1.1" fill="#2a1405" opacity="0.9" filter="url(#wb)"/>
<circle cx="238" cy="534" r="1.3" fill="#2a1405" opacity="0.9" filter="url(#wb)"/>
<circle cx="247" cy="533" r="1.6" fill="#2a1405" opacity="0.9" filter="url(#wb)"/>
<circle cx="254" cy="526" r="1.4" fill="#2a1405" opacity="0.9" filter="url(#wb)"/>
<circle cx="258" cy="531" r="1.8" fill="#2a1405" opacity="0.9" filter="url(#wb)"/>
<circle cx="259" cy="538" r="1.6" fill="#2a1405" opacity="0.9" filter="url(#wb)"/>
<circle cx="263" cy="525" r="1.2" fill="#2a1405" opacity="0.9" filter="url(#wb)"/>
<circle cx="267" cy="534" r="1.2" fill="#2a1405" opacity="0.9" filter="url(#wb)"/>
</g>
<rect x="253.5" y="573.2" width="36.7" height="2.3" fill="#ededed"/>
<rect x="176.8" y="587.2" width="120.3" height="102.2" fill="#0a0404"/>
<g clip-path="url(#g11)">
<g filter="url(#rt)">
<rect x="176.8" y="587.2" width="120.3" height="102.2" fill="#0a0404"/>
<rect x="180" y="631.5" width="124" height="25" rx="12" fill="#460606" filter="url(#rg)"/>
<ellipse cx="232" cy="643.5" rx="30" ry="8" fill="#700a0a" opacity="0.9" filter="url(#rg)"/>
<ellipse cx="203" cy="642" rx="13" ry="7.5" fill="#600808" opacity="0.7" filter="url(#rg)"/>
<ellipse cx="280" cy="640" rx="16" ry="7.5" fill="#5c0707" opacity="0.7" filter="url(#rg)"/>
<ellipse cx="258" cy="648" rx="3.5" ry="7" fill="#100101" opacity="0.6" filter="url(#rg)"/>
<rect x="262" y="628" width="2.5" height="18" fill="#100101" opacity="0.4" filter="url(#b1)"/>
</g>
</g>
<rect x="253.5" y="678.9" width="36.7" height="2.3" fill="#ededed"/>
<rect x="176.8" y="692.9" width="120.3" height="101.8" fill="#0a0404"/>
<g clip-path="url(#g12)">
<g filter="url(#rt)">
<rect x="176.8" y="692.9" width="120.3" height="101.8" fill="#0a0404"/>
<rect x="166" y="734.5" width="119" height="22" rx="11" fill="#480606" filter="url(#rg)"/>
<ellipse cx="204" cy="741" rx="22" ry="6.5" fill="#700a0a" opacity="0.9" filter="url(#rg)"/>
<ellipse cx="265" cy="746.5" rx="16" ry="8" fill="#660909" opacity="0.9" filter="url(#rg)"/>
<ellipse cx="243" cy="749" rx="6" ry="5" fill="#120101" opacity="0.6" filter="url(#rg)"/>
</g>
</g>
<rect x="253.5" y="784.3" width="36.7" height="2.3" fill="#ededed"/>
<rect x="300.5" y="481.2" width="120.4" height="102.0" fill="url(#bgd)"/>
<g clip-path="url(#g20)">
<path d="M298.5 525.6 L300.0 525.9 L301.5 526.2 L303.1 526.6 L304.6 526.2 L306.1 525.8 L307.6 525.6 L309.1 525.4 L310.6 525.4 L312.2 525.5 L313.7 525.8 L315.2 526.1 L316.7 526.5 L318.2 526.3 L319.7 525.9 L321.3 525.6 L322.8 525.4 L324.3 525.4 L325.8 525.5 L327.3 525.7 L328.8 526.0 L330.4 526.4 L331.9 526.4 L333.4 526.0 L334.9 525.7 L336.4 525.5 L337.9 525.4 L339.5 525.5 L341.0 525.7 L342.5 526.0 L344.0 526.3 L345.5 526.5 L347.0 526.1 L348.6 525.7 L350.1 525.5 L351.6 525.4 L353.1 525.4 L354.6 525.6 L356.1 525.9 L357.7 526.3 L359.2 526.6 L360.7 526.3 L362.2 526.0 L363.7 525.8 L365.3 525.8 L366.8 525.9 L368.3 526.1 L369.8 526.5 L371.3 527.0 L372.8 527.4 L374.4 527.1 L375.9 526.7 L377.4 526.4 L378.9 526.1 L380.4 525.9 L381.9 525.8 L383.5 525.9 L385.0 526.0 L386.5 526.2 L388.0 525.9 L389.5 525.4 L391.0 525.0 L392.6 524.7 L394.1 524.5 L395.6 524.4 L397.1 524.6 L398.6 524.8 L400.1 525.1 L401.7 525.0 L403.2 524.6 L404.7 524.2 L406.2 523.9 L407.7 523.8 L409.2 523.8 L410.8 524.0 L412.3 524.3 L413.8 524.7 L415.3 525.0 L416.8 524.7 L418.3 524.4 L419.9 524.2 L421.4 524.2 L422.9 524.3 L422.9 544.4 L421.4 544.7 L419.9 544.8 L418.3 544.6 L416.8 544.2 L415.3 543.6 L413.8 542.9 L412.3 543.5 L410.8 544.3 L409.2 545.0 L407.7 545.4 L406.2 545.6 L404.7 545.5 L403.2 545.2 L401.7 544.7 L400.1 544.1 L398.6 544.9 L397.1 545.7 L395.6 546.4 L394.1 546.9 L392.6 547.0 L391.0 546.9 L389.5 546.6 L388.0 546.1 L386.5 545.4 L385.0 546.3 L383.5 547.1 L381.9 547.7 L380.4 548.1 L378.9 548.2 L377.4 548.0 L375.9 547.6 L374.4 547.1 L372.8 546.6 L371.3 547.4 L369.8 548.1 L368.3 548.7 L366.8 549.0 L365.3 549.1 L363.7 548.8 L362.2 548.4 L360.7 547.7 L359.2 547.4 L357.7 548.2 L356.1 548.9 L354.6 549.3 L353.1 549.6 L351.6 549.6 L350.1 549.2 L348.6 548.7 L347.0 548.0 L345.5 547.7 L344.0 548.5 L342.5 549.1 L341.0 549.5 L339.5 549.6 L337.9 549.5 L336.4 549.1 L334.9 548.5 L333.4 547.7 L331.9 547.5 L330.4 548.2 L328.8 548.7 L327.3 549.1 L325.8 549.1 L324.3 548.9 L322.8 548.4 L321.3 547.6 L319.7 546.7 L318.2 546.5 L316.7 547.0 L315.2 547.4 L313.7 547.5 L312.2 547.3 L310.6 546.8 L309.1 546.1 L307.6 545.2 L306.1 544.2 L304.6 544.1 L303.1 544.6 L301.5 545.1 L300.0 545.3 L298.5 545.4 Z" fill="#3a220a" opacity="0.75" filter="url(#wh)" transform="translate(0,-1.5)"/>
<g filter="url(#wb)"><path d="M298.5 525.6 L300.0 525.9 L301.5 526.2 L303.1 526.6 L304.6 526.2 L306.1 525.8 L307.6 525.6 L309.1 525.4 L310.6 525.4 L312.2 525.5 L313.7 525.8 L315.2 526.1 L316.7 526.5 L318.2 526.3 L319.7 525.9 L321.3 525.6 L322.8 525.4 L324.3 525.4 L325.8 525.5 L327.3 525.7 L328.8 526.0 L330.4 526.4 L331.9 526.4 L333.4 526.0 L334.9 525.7 L336.4 525.5 L337.9 525.4 L339.5 525.5 L341.0 525.7 L342.5 526.0 L344.0 526.3 L345.5 526.5 L347.0 526.1 L348.6 525.7 L350.1 525.5 L351.6 525.4 L353.1 525.4 L354.6 525.6 L356.1 525.9 L357.7 526.3 L359.2 526.6 L360.7 526.3 L362.2 526.0 L363.7 525.8 L365.3 525.8 L366.8 525.9 L368.3 526.1 L369.8 526.5 L371.3 527.0 L372.8 527.4 L374.4 527.1 L375.9 526.7 L377.4 526.4 L378.9 526.1 L380.4 525.9 L381.9 525.8 L383.5 525.9 L385.0 526.0 L386.5 526.2 L388.0 525.9 L389.5 525.4 L391.0 525.0 L392.6 524.7 L394.1 524.5 L395.6 524.4 L397.1 524.6 L398.6 524.8 L400.1 525.1 L401.7 525.0 L403.2 524.6 L404.7 524.2 L406.2 523.9 L407.7 523.8 L409.2 523.8 L410.8 524.0 L412.3 524.3 L413.8 524.7 L415.3 525.0 L416.8 524.7 L418.3 524.4 L419.9 524.2 L421.4 524.2 L422.9 524.3 L422.9 544.4 L421.4 544.7 L419.9 544.8 L418.3 544.6 L416.8 544.2 L415.3 543.6 L413.8 542.9 L412.3 543.5 L410.8 544.3 L409.2 545.0 L407.7 545.4 L406.2 545.6 L404.7 545.5 L403.2 545.2 L401.7 544.7 L400.1 544.1 L398.6 544.9 L397.1 545.7 L395.6 546.4 L394.1 546.9 L392.6 547.0 L391.0 546.9 L389.5 546.6 L388.0 546.1 L386.5 545.4 L385.0 546.3 L383.5 547.1 L381.9 547.7 L380.4 548.1 L378.9 548.2 L377.4 548.0 L375.9 547.6 L374.4 547.1 L372.8 546.6 L371.3 547.4 L369.8 548.1 L368.3 548.7 L366.8 549.0 L365.3 549.1 L363.7 548.8 L362.2 548.4 L360.7 547.7 L359.2 547.4 L357.7 548.2 L356.1 548.9 L354.6 549.3 L353.1 549.6 L351.6 549.6 L350.1 549.2 L348.6 548.7 L347.0 548.0 L345.5 547.7 L344.0 548.5 L342.5 549.1 L341.0 549.5 L339.5 549.6 L337.9 549.5 L336.4 549.1 L334.9 548.5 L333.4 547.7 L331.9 547.5 L330.4 548.2 L328.8 548.7 L327.3 549.1 L325.8 549.1 L324.3 548.9 L322.8 548.4 L321.3 547.6 L319.7 546.7 L318.2 546.5 L316.7 547.0 L315.2 547.4 L313.7 547.5 L312.2 547.3 L310.6 546.8 L309.1 546.1 L307.6 545.2 L306.1 544.2 L304.6 544.1 L303.1 544.6 L301.5 545.1 L300.0 545.3 L298.5 545.4 Z" fill="url(#w3)" filter="url(#wt)"/></g>
<path d="M298.5 529.8 L301.5 529.8 L304.6 529.8 L307.6 529.8 L310.6 529.8 L313.7 529.8 L316.7 529.8 L319.7 529.8 L322.8 529.8 L325.8 529.8 L328.8 529.8 L331.9 529.8 L334.9 529.8 L337.9 529.8 L341.0 529.8 L344.0 529.8 L347.0 529.8 L350.1 529.8 L353.1 529.8 L356.1 529.8 L359.2 529.9 L362.2 530.0 L365.3 530.2 L368.3 530.4 L371.3 530.6 L374.4 530.7 L377.4 530.6 L380.4 530.3 L383.5 529.9 L386.5 529.6 L389.5 529.2 L392.6 529.0 L395.6 528.8 L398.6 528.6 L401.7 528.4 L404.7 528.3 L407.7 528.2 L410.8 528.2 L413.8 528.2 L416.8 528.3 L419.9 528.5 L422.9 528.7" fill="none" stroke="#40280c" stroke-width="3.6" stroke-opacity="0.55" filter="url(#wb)"/>
<path d="M298.5 539.8 L301.5 539.9 L304.6 540.3 L307.6 540.8 L310.6 541.4 L313.7 542.0 L316.7 542.5 L319.7 542.9 L322.8 543.3 L325.8 543.5 L328.8 543.7 L331.9 543.8 L334.9 543.9 L337.9 544.0 L341.0 544.1 L344.0 544.1 L347.0 544.1 L350.1 544.1 L353.1 544.0 L356.1 543.9 L359.2 543.8 L362.2 543.7 L365.3 543.5 L368.3 543.3 L371.3 543.2 L374.4 543.0 L377.4 542.8 L380.4 542.5 L383.5 542.3 L386.5 542.0 L389.5 541.8 L392.6 541.5 L395.6 541.1 L398.6 540.8 L401.7 540.5 L404.7 540.2 L407.7 539.8 L410.8 539.6 L413.8 539.4 L416.8 539.2 L419.9 539.2 L422.9 539.2" fill="none" stroke="#40280c" stroke-width="3.8" stroke-opacity="0.55" filter="url(#wb)"/>
<path d="M298.5 525.6 L300.0 525.9 L301.5 526.2 L303.1 526.6 L304.6 526.2 L306.1 525.8 L307.6 525.6 L309.1 525.4 L310.6 525.4 L312.2 525.5 L313.7 525.8 L315.2 526.1 L316.7 526.5 L318.2 526.3 L319.7 525.9 L321.3 525.6 L322.8 525.4 L324.3 525.4 L325.8 525.5 L327.3 525.7 L328.8 526.0 L330.4 526.4 L331.9 526.4 L333.4 526.0 L334.9 525.7 L336.4 525.5 L337.9 525.4 L339.5 525.5 L341.0 525.7 L342.5 526.0 L344.0 526.3 L345.5 526.5 L347.0 526.1 L348.6 525.7 L350.1 525.5 L351.6 525.4 L353.1 525.4 L354.6 525.6 L356.1 525.9 L357.7 526.3 L359.2 526.6 L360.7 526.3 L362.2 526.0 L363.7 525.8 L365.3 525.8 L366.8 525.9 L368.3 526.1 L369.8 526.5 L371.3 527.0 L372.8 527.4 L374.4 527.1 L375.9 526.7 L377.4 526.4 L378.9 526.1 L380.4 525.9 L381.9 525.8 L383.5 525.9 L385.0 526.0 L386.5 526.2 L388.0 525.9 L389.5 525.4 L391.0 525.0 L392.6 524.7 L394.1 524.5 L395.6 524.4 L397.1 524.6 L398.6 524.8 L400.1 525.1 L401.7 525.0 L403.2 524.6 L404.7 524.2 L406.2 523.9 L407.7 523.8 L409.2 523.8 L410.8 524.0 L412.3 524.3 L413.8 524.7 L415.3 525.0 L416.8 524.7 L418.3 524.4 L419.9 524.2 L421.4 524.2 L422.9 524.3 L422.9 544.4 L421.4 544.7 L419.9 544.8 L418.3 544.6 L416.8 544.2 L415.3 543.6 L413.8 542.9 L412.3 543.5 L410.8 544.3 L409.2 545.0 L407.7 545.4 L406.2 545.6 L404.7 545.5 L403.2 545.2 L401.7 544.7 L400.1 544.1 L398.6 544.9 L397.1 545.7 L395.6 546.4 L394.1 546.9 L392.6 547.0 L391.0 546.9 L389.5 546.6 L388.0 546.1 L386.5 545.4 L385.0 546.3 L383.5 547.1 L381.9 547.7 L380.4 548.1 L378.9 548.2 L377.4 548.0 L375.9 547.6 L374.4 547.1 L372.8 546.6 L371.3 547.4 L369.8 548.1 L368.3 548.7 L366.8 549.0 L365.3 549.1 L363.7 548.8 L362.2 548.4 L360.7 547.7 L359.2 547.4 L357.7 548.2 L356.1 548.9 L354.6 549.3 L353.1 549.6 L351.6 549.6 L350.1 549.2 L348.6 548.7 L347.0 548.0 L345.5 547.7 L344.0 548.5 L342.5 549.1 L341.0 549.5 L339.5 549.6 L337.9 549.5 L336.4 549.1 L334.9 548.5 L333.4 547.7 L331.9 547.5 L330.4 548.2 L328.8 548.7 L327.3 549.1 L325.8 549.1 L324.3 548.9 L322.8 548.4 L321.3 547.6 L319.7 546.7 L318.2 546.5 L316.7 547.0 L315.2 547.4 L313.7 547.5 L312.2 547.3 L310.6 546.8 L309.1 546.1 L307.6 545.2 L306.1 544.2 L304.6 544.1 L303.1 544.6 L301.5 545.1 L300.0 545.3 L298.5 545.4 Z" fill="none" stroke="#c4b088" stroke-width="0.7" stroke-opacity="0.7" filter="url(#wb)"/>
<path d="M302 533.4 Q350 535.5 378 534.2 Q400 532.5 420 532" stroke="#cdb890" stroke-width="1.0" stroke-opacity="0.6" fill="none" filter="url(#wb)"/>
<rect x="374" y="527" width="3.4" height="20" fill="#140a03" opacity="0.85" filter="url(#wb)"/>
<rect x="384" y="527" width="3.4" height="20" fill="#140a03" opacity="0.85" filter="url(#wb)"/>
<circle cx="309" cy="538" r="2.0" fill="#2c1606" opacity="0.85" filter="url(#wb)"/>
<circle cx="322" cy="540" r="2.0" fill="#2c1606" opacity="0.85" filter="url(#wb)"/>
<circle cx="335" cy="541.5" r="2.0" fill="#2c1606" opacity="0.85" filter="url(#wb)"/>
<circle cx="349" cy="542" r="2.1" fill="#2c1606" opacity="0.85" filter="url(#wb)"/>
<circle cx="362" cy="542" r="2.2" fill="#2c1606" opacity="0.85" filter="url(#wb)"/>
<circle cx="376" cy="541" r="2.6" fill="#2c1606" opacity="0.85" filter="url(#wb)"/>
<circle cx="386" cy="540.5" r="2.6" fill="#2c1606" opacity="0.85" filter="url(#wb)"/>
<circle cx="376" cy="530" r="2.0" fill="#2c1606" opacity="0.85" filter="url(#wb)"/>
<circle cx="386" cy="529.5" r="2.0" fill="#2c1606" opacity="0.85" filter="url(#wb)"/>
<circle cx="398" cy="538" r="1.5" fill="#2c1606" opacity="0.85" filter="url(#wb)"/>
<circle cx="412" cy="536" r="1.3" fill="#2c1606" opacity="0.85" filter="url(#wb)"/>
<circle cx="320" cy="528" r="1.2" fill="#2c1606" opacity="0.85" filter="url(#wb)"/>
<circle cx="345" cy="529" r="1.2" fill="#2c1606" opacity="0.85" filter="url(#wb)"/>
<circle cx="362" cy="528" r="1.4" fill="#2c1606" opacity="0.85" filter="url(#wb)"/>
</g>
<rect x="377.4" y="573.2" width="36.6" height="2.3" fill="#ededed"/>
<rect x="300.5" y="587.2" width="120.4" height="102.2" fill="#0a0404"/>
<g clip-path="url(#g21)">
<g filter="url(#rt)">
<rect x="300.5" y="587.2" width="120.4" height="102.2" fill="#0a0404"/>
<rect x="296" y="630.5" width="130" height="23" rx="11" fill="#260303" filter="url(#rg)"/>
<rect x="330" y="630" width="96" height="20" rx="10" fill="#460606" opacity="0.8" filter="url(#rg)"/>
<ellipse cx="350" cy="640.5" rx="9" ry="8" fill="#6c0a0a" opacity="0.9" filter="url(#rg)"/>
<ellipse cx="398" cy="638" rx="14" ry="6.5" fill="#5a0707" opacity="0.7" filter="url(#rg)"/>
<rect x="371" y="626" width="4" height="15" fill="#0a0101" opacity="0.45" filter="url(#b1)"/>
<rect x="362" y="628" width="2.5" height="12" fill="#0a0101" opacity="0.35" filter="url(#b1)"/>
<rect x="381" y="628" width="2.5" height="12" fill="#0a0101" opacity="0.35" filter="url(#b1)"/>
</g>
</g>
<rect x="377.4" y="678.9" width="36.6" height="2.3" fill="#ededed"/>
<rect x="300.5" y="692.9" width="120.4" height="101.8" fill="#0a0404"/>
<g clip-path="url(#g22)">
<g filter="url(#rt)">
<rect x="300.5" y="692.9" width="120.4" height="101.8" fill="#0a0404"/>
<path d="M298 762 Q350 758 420 738" stroke="#160202" stroke-width="24" fill="none" filter="url(#rg2)"/>
</g>
</g>
<rect x="377.4" y="784.3" width="36.6" height="2.3" fill="#ededed"/>
<text x="450.5" y="449.4" font-size="25" text-anchor="middle" font-weight="bold" font-style="normal" >h</text>
<text transform="translate(458.0,530.8) rotate(-90)" font-size="14.4" text-anchor="middle" font-weight="bold">Relative expression</text>
<rect x="491.6" y="558.2" width="13.3" height="58.4" fill="#1f3a5f"/>
<path d="M498.2 558.2 V533.3 M494.6 533.3 H501.9" stroke="#333" stroke-width="0.8" fill="none"/>
<circle cx="498.2" cy="530.0" r="1.75" fill="#0a0a0a"/>
<circle cx="498.2" cy="566.7" r="1.75" fill="#0a0a0a"/>
<circle cx="498.2" cy="578.2" r="1.75" fill="#0a0a0a"/>
<rect x="512.1" y="608.1" width="13.6" height="8.5" fill="#5f7695"/>
<path d="M518.9 608.1 V601.8 M515.3 601.8 H522.5" stroke="#333" stroke-width="0.8" fill="none"/>
<circle cx="518.9" cy="604.8" r="1.75" fill="#0a0a0a"/>
<circle cx="524.4" cy="603.7" r="1.75" fill="#0a0a0a"/>
<circle cx="518.9" cy="614.7" r="1.75" fill="#0a0a0a"/>
<rect x="532.5" y="561.1" width="13.5" height="55.5" fill="#cc6600"/>
<path d="M539.2 561.1 V549.9 M535.6 549.9 H542.9" stroke="#333" stroke-width="0.8" fill="none"/>
<circle cx="539.2" cy="550.0" r="1.75" fill="#0a0a0a"/>
<circle cx="539.2" cy="562.6" r="1.75" fill="#0a0a0a"/>
<circle cx="539.2" cy="571.1" r="1.75" fill="#0a0a0a"/>
<rect x="552.7" y="555.9" width="13.6" height="60.7" fill="#e0964f"/>
<path d="M559.5 555.9 V538.9 M555.9 538.9 H563.1" stroke="#333" stroke-width="0.8" fill="none"/>
<circle cx="559.5" cy="538.2" r="1.75" fill="#0a0a0a"/>
<circle cx="559.5" cy="559.6" r="1.75" fill="#0a0a0a"/>
<circle cx="559.5" cy="570.3" r="1.75" fill="#0a0a0a"/>
<rect x="587.1" y="561.8" width="13.5" height="54.8" fill="#1f3a5f"/>
<path d="M593.9 561.8 V556.6 M590.2 556.6 H597.5" stroke="#333" stroke-width="0.8" fill="none"/>
<circle cx="593.9" cy="558.2" r="1.75" fill="#0a0a0a"/>
<circle cx="599.4" cy="557.1" r="1.75" fill="#0a0a0a"/>
<circle cx="593.9" cy="565.6" r="1.75" fill="#0a0a0a"/>
<rect x="607.6" y="598.0" width="13.5" height="18.6" fill="#5f7695"/>
<path d="M614.4 598.0 V588.7 M610.8 588.7 H618.0" stroke="#333" stroke-width="0.8" fill="none"/>
<circle cx="614.4" cy="588.4" r="1.75" fill="#0a0a0a"/>
<circle cx="614.4" cy="600.2" r="1.75" fill="#0a0a0a"/>
<circle cx="614.4" cy="605.4" r="1.75" fill="#0a0a0a"/>
<rect x="628.3" y="561.8" width="13.5" height="54.8" fill="#cc6600"/>
<path d="M635.0 561.8 V554.7 M631.4 554.7 H638.6" stroke="#333" stroke-width="0.8" fill="none"/>
<circle cx="635.0" cy="555.0" r="1.75" fill="#0a0a0a"/>
<circle cx="635.0" cy="562.6" r="1.75" fill="#0a0a0a"/>
<circle cx="635.0" cy="567.0" r="1.75" fill="#0a0a0a"/>
<rect x="648.8" y="579.9" width="13.6" height="36.7" fill="#e0964f"/>
<path d="M655.6 579.9 V570.6 M652.0 570.6 H659.2" stroke="#333" stroke-width="0.8" fill="none"/>
<circle cx="655.6" cy="570.3" r="1.75" fill="#0a0a0a"/>
<circle cx="655.6" cy="582.6" r="1.75" fill="#0a0a0a"/>
<circle cx="655.6" cy="586.2" r="1.75" fill="#0a0a0a"/>
<rect x="484.5" y="452.2" width="185.0" height="164.4" fill="none" stroke="#111" stroke-width="1.6"/>
<path d="M479.9 616.6 H484.5" stroke="#111" stroke-width="1.5"/>
<text x="478.2" y="621.8000000000001" font-size="15.5" text-anchor="end" font-weight="bold" font-style="normal" >0</text>
<path d="M479.9 561.8 H484.5" stroke="#111" stroke-width="1.5"/>
<text x="478.2" y="567.0" font-size="15.5" text-anchor="end" font-weight="bold" font-style="normal" >1</text>
<path d="M479.9 507.0 H484.5" stroke="#111" stroke-width="1.5"/>
<text x="478.2" y="512.2" font-size="15.5" text-anchor="end" font-weight="bold" font-style="normal" >2</text>
<path d="M479.9 452.2 H484.5" stroke="#111" stroke-width="1.5"/>
<text x="478.2" y="457.4" font-size="15.5" text-anchor="end" font-weight="bold" font-style="normal" >3</text>
<path d="M528.7 616.6 V622.1" stroke="#111" stroke-width="1.5"/>
<text x="528.7" y="636.2" font-size="14.2" text-anchor="middle" font-weight="bold" font-style="normal" >12 h</text>
<path d="M624.7 616.6 V622.1" stroke="#111" stroke-width="1.5"/>
<text x="624.7" y="636.2" font-size="14.2" text-anchor="middle" font-weight="bold" font-style="normal" >24 h</text>
<rect x="489" y="458.0" width="10.6" height="6.6" fill="#1f3a5f"/>
<text x="507" y="464.79999999999995" font-size="9.9" text-anchor="start" font-weight="bold" font-style="normal" >CK+ds<tspan font-style="italic">EGFP</tspan></text>
<rect x="489" y="470.7" width="10.6" height="6.6" fill="#5f7695"/>
<text x="507" y="477.5" font-size="9.9" text-anchor="start" font-weight="bold" font-style="normal" >CK+ds<tspan font-style="italic">CarE</tspan></text>
<rect x="489" y="483.5" width="10.6" height="6.6" fill="#cc6600"/>
<text x="507" y="490.29999999999995" font-size="9.9" text-anchor="start" font-weight="bold" font-style="normal" >Ribonuclease+ds<tspan font-style="italic">EGFP</tspan></text>
<rect x="489" y="496.2" width="10.6" height="6.6" fill="#e0964f"/>
<text x="507" y="503.0" font-size="9.9" text-anchor="start" font-weight="bold" font-style="normal" >Ribonuclease+ds<tspan font-style="italic">CarE</tspan></text>
<path d="M498.6 524.2 H519.2" stroke="#333" stroke-width="1"/>
<text x="508.90000000000003" y="521.2" font-size="13" text-anchor="middle" font-weight="bold" font-style="normal" letter-spacing="0.6">*</text>
<path d="M538.8 524.2 H559.5" stroke="#333" stroke-width="1"/>
<text x="549.15" y="519.2" font-size="9" text-anchor="middle" font-weight="bold" font-style="normal" letter-spacing="0.6">ns</text>
<path d="M593.6 549.5 H614.5" stroke="#333" stroke-width="1"/>
<text x="604.05" y="546.5" font-size="13" text-anchor="middle" font-weight="bold" font-style="normal" letter-spacing="0.6">**</text>
<path d="M635 549.5 H655.6" stroke="#333" stroke-width="1"/>
<text x="645.3" y="546.5" font-size="13" text-anchor="middle" font-weight="bold" font-style="normal" letter-spacing="0.6">*</text>
<text x="447.8" y="646.7" font-size="25" text-anchor="middle" font-weight="bold" font-style="normal" >j</text>
<text transform="translate(458.0,725.4) rotate(-90)" font-size="14.4" text-anchor="middle" font-weight="bold">Relative expression</text>
<rect x="491.6" y="756.4" width="13.3" height="54.9" fill="#1f3a5f"/>
<path d="M498.2 756.4 V752.8 M494.6 752.8 H501.9" stroke="#333" stroke-width="0.8" fill="none"/>
<circle cx="498.2" cy="753.9" r="1.75" fill="#0a0a0a"/>
<circle cx="503.8" cy="756.7" r="1.75" fill="#0a0a0a"/>
<circle cx="498.2" cy="759.1" r="1.75" fill="#0a0a0a"/>
<rect x="512.1" y="794.0" width="13.6" height="17.3" fill="#5f7695"/>
<path d="M518.9 794.0 V788.5 M515.3 788.5 H522.5" stroke="#333" stroke-width="0.8" fill="none"/>
<circle cx="518.9" cy="792.4" r="1.75" fill="#0a0a0a"/>
<circle cx="524.4" cy="790.2" r="1.75" fill="#0a0a0a"/>
<circle cx="518.9" cy="800.0" r="1.75" fill="#0a0a0a"/>
<rect x="532.5" y="753.9" width="13.5" height="57.4" fill="#cc6600"/>
<path d="M539.2 753.9 V731.4 M535.6 731.4 H542.9" stroke="#333" stroke-width="0.8" fill="none"/>
<circle cx="539.2" cy="728.7" r="1.75" fill="#0a0a0a"/>
<circle cx="539.2" cy="762.2" r="1.75" fill="#0a0a0a"/>
<circle cx="539.2" cy="770.4" r="1.75" fill="#0a0a0a"/>
<rect x="552.7" y="746.2" width="13.6" height="65.1" fill="#e0964f"/>
<path d="M559.5 746.2 V727.0 M555.9 727.0 H563.1" stroke="#333" stroke-width="0.8" fill="none"/>
<circle cx="559.5" cy="736.1" r="1.75" fill="#0a0a0a"/>
<circle cx="565.0" cy="734.4" r="1.75" fill="#0a0a0a"/>
<circle cx="559.5" cy="767.7" r="1.75" fill="#0a0a0a"/>
<rect x="587.1" y="755.9" width="13.5" height="55.4" fill="#1f3a5f"/>
<path d="M593.9 755.9 V747.9 M590.2 747.9 H597.5" stroke="#333" stroke-width="0.8" fill="none"/>
<circle cx="593.9" cy="748.2" r="1.75" fill="#0a0a0a"/>
<circle cx="598.9" cy="756.7" r="1.75" fill="#0a0a0a"/>
<circle cx="593.9" cy="763.5" r="1.75" fill="#0a0a0a"/>
<rect x="607.6" y="786.0" width="13.5" height="25.3" fill="#5f7695"/>
<path d="M614.4 786.0 V778.1 M610.8 778.1 H618.0" stroke="#333" stroke-width="0.8" fill="none"/>
<circle cx="614.4" cy="778.4" r="1.75" fill="#0a0a0a"/>
<circle cx="614.4" cy="786.0" r="1.75" fill="#0a0a0a"/>
<circle cx="614.4" cy="793.7" r="1.75" fill="#0a0a0a"/>
<rect x="628.3" y="753.9" width="13.5" height="57.4" fill="#cc6600"/>
<path d="M635.0 753.9 V735.3 M631.4 735.3 H638.6" stroke="#333" stroke-width="0.8" fill="none"/>
<circle cx="635.0" cy="738.0" r="1.75" fill="#0a0a0a"/>
<circle cx="635.0" cy="749.5" r="1.75" fill="#0a0a0a"/>
<circle cx="635.0" cy="774.5" r="1.75" fill="#0a0a0a"/>
<rect x="648.8" y="765.8" width="13.6" height="45.5" fill="#e0964f"/>
<path d="M655.6 765.8 V754.6 M652.0 754.6 H659.2" stroke="#333" stroke-width="0.8" fill="none"/>
<circle cx="655.6" cy="755.0" r="1.75" fill="#0a0a0a"/>
<circle cx="655.6" cy="763.8" r="1.75" fill="#0a0a0a"/>
<circle cx="655.6" cy="778.9" r="1.75" fill="#0a0a0a"/>
<rect x="484.5" y="646.6" width="185.0" height="164.7" fill="none" stroke="#111" stroke-width="1.6"/>
<path d="M479.9 811.3 H484.5" stroke="#111" stroke-width="1.5"/>
<text x="478.2" y="816.5" font-size="15.5" text-anchor="end" font-weight="bold" font-style="normal" >0</text>
<path d="M479.9 756.4 H484.5" stroke="#111" stroke-width="1.5"/>
<text x="478.2" y="761.6" font-size="15.5" text-anchor="end" font-weight="bold" font-style="normal" >1</text>
<path d="M479.9 701.5 H484.5" stroke="#111" stroke-width="1.5"/>
<text x="478.2" y="706.7" font-size="15.5" text-anchor="end" font-weight="bold" font-style="normal" >2</text>
<path d="M479.9 646.6 H484.5" stroke="#111" stroke-width="1.5"/>
<text x="478.2" y="651.8000000000001" font-size="15.5" text-anchor="end" font-weight="bold" font-style="normal" >3</text>
<path d="M528.7 811.3 V816.8" stroke="#111" stroke-width="1.5"/>
<text x="528.7" y="830.9" font-size="14.2" text-anchor="middle" font-weight="bold" font-style="normal" >12 h</text>
<path d="M624.7 811.3 V816.8" stroke="#111" stroke-width="1.5"/>
<text x="624.7" y="830.9" font-size="14.2" text-anchor="middle" font-weight="bold" font-style="normal" >24 h</text>
<rect x="489" y="651.1" width="10.6" height="6.6" fill="#1f3a5f"/>
<text x="507" y="657.9" font-size="9.9" text-anchor="start" font-weight="bold" font-style="normal" >LB+ds<tspan font-style="italic">EGFP</tspan></text>
<rect x="489" y="662.6" width="10.6" height="6.6" fill="#5f7695"/>
<text x="507" y="669.4" font-size="9.9" text-anchor="start" font-weight="bold" font-style="normal" >LB+ds<tspan font-style="italic">Tm-1</tspan></text>
<rect x="489" y="674.6" width="10.6" height="6.6" fill="#cc6600"/>
<text x="507" y="681.4" font-size="9.9" text-anchor="start" font-weight="bold" font-style="normal" >Ribonuclease+ds<tspan font-style="italic">EGFP</tspan></text>
<rect x="489" y="686.2" width="10.6" height="6.6" fill="#e0964f"/>
<text x="507" y="693.0" font-size="9.9" text-anchor="start" font-weight="bold" font-style="normal" >Ribonuclease+ds<tspan font-style="italic">Tm-1</tspan></text>
<path d="M498.8 721.5 H519.5" stroke="#333" stroke-width="1"/>
<text x="509.15" y="718.5" font-size="13" text-anchor="middle" font-weight="bold" font-style="normal" letter-spacing="0.6">***</text>
<path d="M540.3 721.5 H561.5" stroke="#333" stroke-width="1"/>
<text x="550.9" y="716.5" font-size="9" text-anchor="middle" font-weight="bold" font-style="normal" letter-spacing="0.6">ns</text>
<path d="M597 728.6 H618" stroke="#333" stroke-width="1"/>
<text x="607.5" y="725.6" font-size="13" text-anchor="middle" font-weight="bold" font-style="normal" letter-spacing="0.6">**</text>
<path d="M633.5 728.6 H654.5" stroke="#333" stroke-width="1"/>
<text x="644.0" y="723.6" font-size="9" text-anchor="middle" font-weight="bold" font-style="normal" letter-spacing="0.6">ns</text>
<text x="694.5" y="446.6" font-size="25" text-anchor="middle" font-weight="bold" font-style="normal" >i</text>
<text transform="translate(697.6,531.1) rotate(-90)" font-size="14.4" text-anchor="middle" font-weight="bold">survival rate (100%)</text>
<path d="M730.4 479.2 H792.0 V545.1 H853.5 V556.1 H884.3" stroke="#8596b2" stroke-width="1.5" fill="none"/>
<path d="M884.3 554.5 V556.5" stroke="#333" stroke-width="1"/>
<path d="M730.4 479.2 H792.0 V506.7 H822.8 V512.2 H884.3" stroke="#f0a055" stroke-width="1.2" fill="none"/>
<path d="M884.3 510.6 V512.6" stroke="#333" stroke-width="1"/>
<path d="M730.4 479.2 H884.3" stroke="#cc6600" stroke-width="1.2" fill="none"/>
<path d="M884.3 477.6 V479.6" stroke="#333" stroke-width="1"/>
<path d="M730.4 479.2 H792.0 V484.7 H884.3" stroke="#1f3a5f" stroke-width="1.2" fill="none"/>
<path d="M884.3 483.1 V485.1" stroke="#333" stroke-width="1"/>
<path d="M792.0 506.7 V545.1" stroke="#56759c" stroke-width="1.1" fill="none"/>
<path d="M792.0 479.2 V507.2" stroke="#2a3140" stroke-width="1.1" fill="none"/>
<rect x="730.4" y="452.1" width="184.7" height="164.4" fill="none" stroke="#111" stroke-width="1.6"/>
<path d="M726.1999999999999 616.5 H730.4" stroke="#111" stroke-width="1.5"/>
<text x="724.8" y="621.5" font-size="14.6" text-anchor="end" font-weight="bold" font-style="normal" >50</text>
<path d="M726.1999999999999 547.9 H730.4" stroke="#111" stroke-width="1.5"/>
<text x="724.8" y="552.85" font-size="14.6" text-anchor="end" font-weight="bold" font-style="normal" >75</text>
<path d="M726.1999999999999 479.2 H730.4" stroke="#111" stroke-width="1.5"/>
<text x="724.8" y="484.2" font-size="14.6" text-anchor="end" font-weight="bold" font-style="normal" >100</text>
<path d="M730.4 616.5 V620.7" stroke="#111" stroke-width="1.5"/>
<text x="730.4" y="635.9" font-size="15.4" text-anchor="middle" font-weight="bold" font-style="normal" >0</text>
<path d="M792.0 616.5 V620.7" stroke="#111" stroke-width="1.5"/>
<text x="791.9666666666667" y="635.9" font-size="15.4" text-anchor="middle" font-weight="bold" font-style="normal" >2</text>
<path d="M853.5 616.5 V620.7" stroke="#111" stroke-width="1.5"/>
<text x="853.5333333333333" y="635.9" font-size="15.4" text-anchor="middle" font-weight="bold" font-style="normal" >4</text>
<path d="M915.1 616.5 V620.7" stroke="#111" stroke-width="1.5"/>
<text x="915.1" y="635.9" font-size="15.4" text-anchor="middle" font-weight="bold" font-style="normal" >6</text>
<text x="921.1" y="635.3" font-size="11.3" text-anchor="start" font-weight="bold" font-style="normal" >(days)</text>
<path d="M737.3 567.7 H748.5" stroke="#1f3a5f" stroke-width="1.1"/>
<path d="M742.9 565.7 V568.3" stroke="#222" stroke-width="1"/>
<text x="755.2" y="570.9000000000001" font-size="10.1" text-anchor="start" font-weight="bold" font-style="normal" >LB+ds<tspan font-style="italic">EGFP</tspan></text>
<path d="M737.3 579.2 H748.5" stroke="#cc6600" stroke-width="1.1"/>
<path d="M742.9 577.2 V579.8" stroke="#222" stroke-width="1"/>
<text x="755.2" y="582.4000000000001" font-size="10.1" text-anchor="start" font-weight="bold" font-style="normal" >Ribonuclease+ds<tspan font-style="italic">EGFP</tspan></text>
<path d="M737.3 592.9 H748.5" stroke="#8596b2" stroke-width="1.1"/>
<path d="M742.9 590.9 V593.5" stroke="#222" stroke-width="1"/>
<text x="755.2" y="596.1000000000001" font-size="10.1" text-anchor="start" font-weight="bold" font-style="normal" >LB+ds<tspan font-style="italic">CarE</tspan></text>
<path d="M737.3 604.3 H748.5" stroke="#f0a055" stroke-width="1.1"/>
<path d="M742.9 602.3 V604.9" stroke="#222" stroke-width="1"/>
<text x="755.2" y="607.5000000000001" font-size="10.1" text-anchor="start" font-weight="bold" font-style="normal" >Ribonuclease+ds<tspan font-style="italic">CarE</tspan></text>
<path d="M850.6 589.3 H856.2 V607.0 H850.6" stroke="#222" stroke-width="0.9" fill="none"/>
<text x="861" y="605.2" font-size="12" text-anchor="middle" font-weight="bold" font-style="normal" >*</text>
<text x="700" y="643.0" font-size="25" text-anchor="middle" font-weight="bold" font-style="normal" >k</text>
<text transform="translate(697.6,725.8) rotate(-90)" font-size="14.4" text-anchor="middle" font-weight="bold">survival rate (100%)</text>
<path d="M730.4 673.6 H776.6 V734.0 H799.7 V745.0 H822.8 V756.0 H845.8 V761.5 H868.9" stroke="#8596b2" stroke-width="1.5" fill="none"/>
<path d="M868.9 759.9 V761.9" stroke="#333" stroke-width="1"/>
<path d="M730.4 673.6 H776.6 V701.1 H799.7 V706.6 H822.8 V712.0 H868.9" stroke="#f0a055" stroke-width="1.2" fill="none"/>
<path d="M868.9 710.4 V712.4" stroke="#333" stroke-width="1"/>
<path d="M730.4 673.6 H776.6 V679.1 H822.8 V684.6 H868.9" stroke="#cc6600" stroke-width="1.2" fill="none"/>
<path d="M868.9 683.0 V685.0" stroke="#333" stroke-width="1"/>
<path d="M730.4 673.6 H845.8 V679.1 H868.9" stroke="#1f3a5f" stroke-width="1.2" fill="none"/>
<path d="M868.9 677.5 V679.5" stroke="#333" stroke-width="1"/>
<path d="M776.6 701.1 V734.0" stroke="#56759c" stroke-width="1.1" fill="none"/>
<path d="M776.6 673.6 V701.6" stroke="#2a3140" stroke-width="1.1" fill="none"/>
<rect x="730.4" y="647.1" width="184.7" height="163.8" fill="none" stroke="#111" stroke-width="1.6"/>
<path d="M726.1999999999999 810.9 H730.4" stroke="#111" stroke-width="1.5"/>
<text x="724.8" y="815.9" font-size="14.6" text-anchor="end" font-weight="bold" font-style="normal" >50</text>
<path d="M726.1999999999999 742.2 H730.4" stroke="#111" stroke-width="1.5"/>
<text x="724.8" y="747.25" font-size="14.6" text-anchor="end" font-weight="bold" font-style="normal" >75</text>
<path d="M726.1999999999999 673.6 H730.4" stroke="#111" stroke-width="1.5"/>
<text x="724.8" y="678.5999999999999" font-size="14.6" text-anchor="end" font-weight="bold" font-style="normal" >100</text>
<path d="M730.4 810.9 V815.1" stroke="#111" stroke-width="1.5"/>
<text x="730.4" y="830.3" font-size="15.4" text-anchor="middle" font-weight="bold" font-style="normal" >0</text>
<path d="M776.6 810.9 V815.1" stroke="#111" stroke-width="1.5"/>
<text x="776.575" y="830.3" font-size="15.4" text-anchor="middle" font-weight="bold" font-style="normal" >2</text>
<path d="M822.8 810.9 V815.1" stroke="#111" stroke-width="1.5"/>
<text x="822.75" y="830.3" font-size="15.4" text-anchor="middle" font-weight="bold" font-style="normal" >4</text>
<path d="M868.9 810.9 V815.1" stroke="#111" stroke-width="1.5"/>
<text x="868.925" y="830.3" font-size="15.4" text-anchor="middle" font-weight="bold" font-style="normal" >6</text>
<path d="M915.1 810.9 V815.1" stroke="#111" stroke-width="1.5"/>
<text x="915.1" y="830.3" font-size="15.4" text-anchor="middle" font-weight="bold" font-style="normal" >8</text>
<text x="921.1" y="829.6999999999999" font-size="11.3" text-anchor="start" font-weight="bold" font-style="normal" >(days)</text>
<path d="M737.3 761.7 H748.5" stroke="#1f3a5f" stroke-width="1.1"/>
<path d="M742.9 759.7 V762.3" stroke="#222" stroke-width="1"/>
<text x="755.2" y="764.9000000000001" font-size="10.1" text-anchor="start" font-weight="bold" font-style="normal" >LB+ds<tspan font-style="italic">EGFP</tspan></text>
<path d="M737.3 773.2 H748.5" stroke="#cc6600" stroke-width="1.1"/>
<path d="M742.9 771.2 V773.8" stroke="#222" stroke-width="1"/>
<text x="755.2" y="776.4000000000001" font-size="10.1" text-anchor="start" font-weight="bold" font-style="normal" >Ribonuclease+ds<tspan font-style="italic">EGFP</tspan></text>
<path d="M737.3 786.9 H748.5" stroke="#8596b2" stroke-width="1.1"/>
<path d="M742.9 784.9 V787.5" stroke="#222" stroke-width="1"/>
<text x="755.2" y="790.1000000000001" font-size="10.1" text-anchor="start" font-weight="bold" font-style="normal" >LB+ds<tspan font-style="italic">Tm-1</tspan></text>
<path d="M737.3 798.3 H748.5" stroke="#f0a055" stroke-width="1.1"/>
<path d="M742.9 796.3 V798.9" stroke="#222" stroke-width="1"/>
<text x="755.2" y="801.5000000000001" font-size="10.1" text-anchor="start" font-weight="bold" font-style="normal" >Ribonuclease+ds<tspan font-style="italic">Tm-1</tspan></text>
<path d="M850.6 783.3 H856.2 V801.0 H850.6" stroke="#222" stroke-width="0.9" fill="none"/>
<text x="861" y="799.2" font-size="12" text-anchor="middle" font-weight="bold" font-style="normal" >*</text>
</svg>
</body></html>
